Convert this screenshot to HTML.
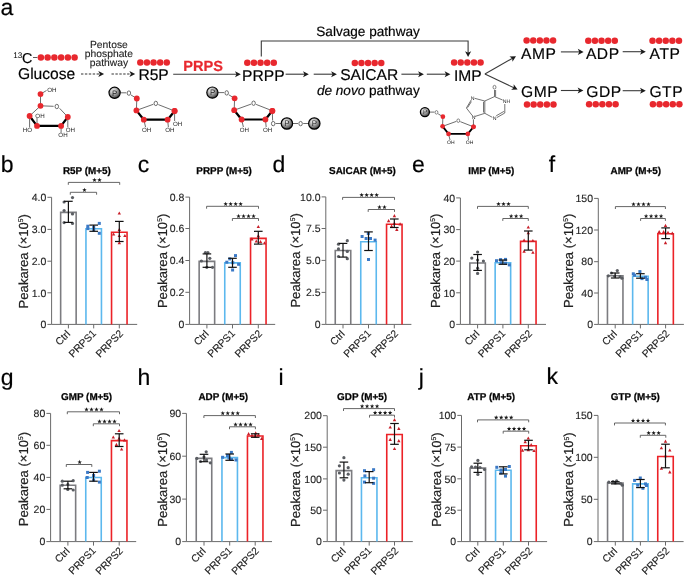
<!DOCTYPE html>
<html><head><meta charset="utf-8"><style>html,body{margin:0;padding:0;background:#fff;}svg{display:block;will-change:transform;text-rendering:geometricPrecision;}</style></head><body>
<svg width="685" height="576" viewBox="0 0 685 576">
<defs><radialGradient id="sph" cx="0.38" cy="0.32" r="0.75"><stop offset="0" stop-color="#f5f5f5"/><stop offset="0.35" stop-color="#bdbdbd"/><stop offset="0.72" stop-color="#6e6e6e"/><stop offset="1" stop-color="#2a2a2a"/></radialGradient></defs>
<g font-family='"Liberation Sans", sans-serif'>
<text x="0.60" y="14.90" font-size="23" stroke="#141414" stroke-width="0.2">a</text>
<text x="13.30" y="57.90" font-size="8.2">13</text>
<text x="21.90" y="62.50" font-size="14.3" stroke="#141414" stroke-width="0.2">C</text>
<line x1="33.00" y1="57.50" x2="37.40" y2="57.50" stroke="#333" stroke-width="0.8"/>
<circle cx="40.90" cy="57.50" r="3.25" fill="#e8282e"/>
<circle cx="47.64" cy="57.50" r="3.25" fill="#e8282e"/>
<circle cx="54.38" cy="57.50" r="3.25" fill="#e8282e"/>
<circle cx="61.12" cy="57.50" r="3.25" fill="#e8282e"/>
<circle cx="67.86" cy="57.50" r="3.25" fill="#e8282e"/>
<circle cx="74.60" cy="57.50" r="3.25" fill="#e8282e"/>
<text x="18.00" y="78.50" font-size="15.6" stroke="#141414" stroke-width="0.2">Glucose</text>
<text x="108.90" y="47.70" font-size="10.3" text-anchor="middle" fill="#222" stroke="#222" stroke-width="0.12">Pentose</text>
<text x="108.90" y="57.20" font-size="10.3" text-anchor="middle" fill="#222" stroke="#222" stroke-width="0.12">phosphate</text>
<text x="108.90" y="66.40" font-size="10.3" text-anchor="middle" fill="#222" stroke="#222" stroke-width="0.12">pathway</text>
<line x1="81.00" y1="74.00" x2="100.60" y2="74.00" stroke="#333" stroke-width="1.2" stroke-dasharray="2.4,1.5"/>
<polygon points="104.10,74.00 98.30,70.95 99.80,74.00 98.30,77.05" fill="#1a1a1a"/>
<line x1="111.50" y1="74.00" x2="131.70" y2="74.00" stroke="#333" stroke-width="1.2" stroke-dasharray="2.4,1.5"/>
<polygon points="135.20,74.00 129.40,70.95 130.90,74.00 129.40,77.05" fill="#1a1a1a"/>
<circle cx="140.30" cy="62.50" r="3.25" fill="#e8282e"/>
<circle cx="146.92" cy="62.50" r="3.25" fill="#e8282e"/>
<circle cx="153.54" cy="62.50" r="3.25" fill="#e8282e"/>
<circle cx="160.16" cy="62.50" r="3.25" fill="#e8282e"/>
<circle cx="166.78" cy="62.50" r="3.25" fill="#e8282e"/>
<text x="138.40" y="80.40" font-size="15.6" stroke="#141414" stroke-width="0.2">R5P</text>
<line x1="173.20" y1="74.30" x2="237.30" y2="74.30" stroke="#3a3a3a" stroke-width="1.1"/>
<polygon points="240.80,74.30 235.00,71.25 236.50,74.30 235.00,77.35" fill="#1a1a1a"/>
<text x="183.20" y="71.00" font-size="14.6" font-weight="bold" fill="#e8282e" stroke="#e8282e" stroke-width="0.2">PRPS</text>
<circle cx="247.30" cy="62.80" r="3.25" fill="#e8282e"/>
<circle cx="253.92" cy="62.80" r="3.25" fill="#e8282e"/>
<circle cx="260.54" cy="62.80" r="3.25" fill="#e8282e"/>
<circle cx="267.16" cy="62.80" r="3.25" fill="#e8282e"/>
<circle cx="273.78" cy="62.80" r="3.25" fill="#e8282e"/>
<text x="242.10" y="81.00" font-size="15.6" stroke="#141414" stroke-width="0.2">PRPP</text>
<line x1="285.60" y1="74.20" x2="305.30" y2="74.20" stroke="#3a3a3a" stroke-width="1.1"/>
<polygon points="308.80,74.20 303.00,71.15 304.50,74.20 303.00,77.25" fill="#1a1a1a"/>
<line x1="313.70" y1="74.20" x2="333.40" y2="74.20" stroke="#3a3a3a" stroke-width="1.1"/>
<polygon points="336.90,74.20 331.10,71.15 332.60,74.20 331.10,77.25" fill="#1a1a1a"/>
<polyline points="261.3,56.5 261.3,41 468.1,41 468.1,53" fill="none" stroke="#3a3a3a" stroke-width="1.1"/>
<polygon points="468.10,57.00 471.15,51.20 468.10,52.70 465.05,51.20" fill="#1a1a1a"/>
<text x="316.30" y="35.80" font-size="13.6" stroke="#141414" stroke-width="0.2">Salvage pathway</text>
<circle cx="354.80" cy="62.90" r="3.25" fill="#e8282e"/>
<circle cx="361.42" cy="62.90" r="3.25" fill="#e8282e"/>
<circle cx="368.04" cy="62.90" r="3.25" fill="#e8282e"/>
<circle cx="374.66" cy="62.90" r="3.25" fill="#e8282e"/>
<circle cx="381.28" cy="62.90" r="3.25" fill="#e8282e"/>
<text x="340.20" y="79.80" font-size="15.6" stroke="#141414" stroke-width="0.2">SAICAR</text>
<text x="316.90" y="94.70" font-size="13.6" stroke="#141414" stroke-width="0.2"><tspan font-style="italic">de novo</tspan> pathway</text>
<line x1="401.40" y1="74.20" x2="420.40" y2="74.20" stroke="#3a3a3a" stroke-width="1.1"/>
<polygon points="423.90,74.20 418.10,71.15 419.60,74.20 418.10,77.25" fill="#1a1a1a"/>
<line x1="426.80" y1="74.20" x2="446.90" y2="74.20" stroke="#3a3a3a" stroke-width="1.1"/>
<polygon points="450.40,74.20 444.60,71.15 446.10,74.20 444.60,77.25" fill="#1a1a1a"/>
<circle cx="454.10" cy="62.50" r="3.25" fill="#e8282e"/>
<circle cx="460.72" cy="62.50" r="3.25" fill="#e8282e"/>
<circle cx="467.34" cy="62.50" r="3.25" fill="#e8282e"/>
<circle cx="473.96" cy="62.50" r="3.25" fill="#e8282e"/>
<circle cx="480.58" cy="62.50" r="3.25" fill="#e8282e"/>
<text x="454.00" y="80.90" font-size="15.6" stroke="#141414" stroke-width="0.2">IMP</text>
<line x1="484.90" y1="73.90" x2="512.95" y2="58.02" stroke="#3a3a3a" stroke-width="1.1"/>
<polygon points="516.00,56.30 509.45,56.50 512.26,58.42 512.45,61.81" fill="#1a1a1a"/>
<line x1="484.90" y1="73.90" x2="514.44" y2="88.09" stroke="#3a3a3a" stroke-width="1.1"/>
<polygon points="517.60,89.60 513.69,84.34 513.72,87.74 511.05,89.84" fill="#1a1a1a"/>
<circle cx="526.60" cy="40.50" r="3.25" fill="#e8282e"/>
<circle cx="533.22" cy="40.50" r="3.25" fill="#e8282e"/>
<circle cx="539.84" cy="40.50" r="3.25" fill="#e8282e"/>
<circle cx="546.46" cy="40.50" r="3.25" fill="#e8282e"/>
<circle cx="553.08" cy="40.50" r="3.25" fill="#e8282e"/>
<text x="521.00" y="58.90" font-size="15.6" letter-spacing="0.55" stroke="#141414" stroke-width="0.2">AMP</text>
<line x1="560.90" y1="51.90" x2="580.10" y2="51.90" stroke="#3a3a3a" stroke-width="1.1"/>
<polygon points="583.60,51.90 577.80,48.85 579.30,51.90 577.80,54.95" fill="#1a1a1a"/>
<circle cx="588.30" cy="40.80" r="3.25" fill="#e8282e"/>
<circle cx="594.92" cy="40.80" r="3.25" fill="#e8282e"/>
<circle cx="601.54" cy="40.80" r="3.25" fill="#e8282e"/>
<circle cx="608.16" cy="40.80" r="3.25" fill="#e8282e"/>
<circle cx="614.78" cy="40.80" r="3.25" fill="#e8282e"/>
<text x="585.90" y="58.90" font-size="15.6" letter-spacing="0.55" stroke="#141414" stroke-width="0.2">ADP</text>
<line x1="622.70" y1="51.70" x2="642.30" y2="51.70" stroke="#3a3a3a" stroke-width="1.1"/>
<polygon points="645.80,51.70 640.00,48.65 641.50,51.70 640.00,54.75" fill="#1a1a1a"/>
<circle cx="652.50" cy="40.80" r="3.25" fill="#e8282e"/>
<circle cx="659.12" cy="40.80" r="3.25" fill="#e8282e"/>
<circle cx="665.74" cy="40.80" r="3.25" fill="#e8282e"/>
<circle cx="672.36" cy="40.80" r="3.25" fill="#e8282e"/>
<circle cx="678.98" cy="40.80" r="3.25" fill="#e8282e"/>
<text x="649.60" y="58.90" font-size="15.6" letter-spacing="0.55" stroke="#141414" stroke-width="0.2">ATP</text>
<text x="521.00" y="96.90" font-size="15.6" letter-spacing="0.55" stroke="#141414" stroke-width="0.2">GMP</text>
<circle cx="527.00" cy="104.40" r="3.25" fill="#e8282e"/>
<circle cx="533.62" cy="104.40" r="3.25" fill="#e8282e"/>
<circle cx="540.24" cy="104.40" r="3.25" fill="#e8282e"/>
<circle cx="546.86" cy="104.40" r="3.25" fill="#e8282e"/>
<circle cx="553.48" cy="104.40" r="3.25" fill="#e8282e"/>
<line x1="560.90" y1="90.50" x2="579.90" y2="90.50" stroke="#3a3a3a" stroke-width="1.1"/>
<polygon points="583.40,90.50 577.60,87.45 579.10,90.50 577.60,93.55" fill="#1a1a1a"/>
<text x="586.30" y="96.90" font-size="15.6" letter-spacing="0.55" stroke="#141414" stroke-width="0.2">GDP</text>
<circle cx="589.10" cy="104.30" r="3.25" fill="#e8282e"/>
<circle cx="595.72" cy="104.30" r="3.25" fill="#e8282e"/>
<circle cx="602.34" cy="104.30" r="3.25" fill="#e8282e"/>
<circle cx="608.96" cy="104.30" r="3.25" fill="#e8282e"/>
<circle cx="615.58" cy="104.30" r="3.25" fill="#e8282e"/>
<line x1="622.70" y1="90.70" x2="642.30" y2="90.70" stroke="#3a3a3a" stroke-width="1.1"/>
<polygon points="645.80,90.70 640.00,87.65 641.50,90.70 640.00,93.75" fill="#1a1a1a"/>
<text x="649.40" y="96.90" font-size="15.6" letter-spacing="0.55" stroke="#141414" stroke-width="0.2">GTP</text>
<circle cx="652.90" cy="104.30" r="3.25" fill="#e8282e"/>
<circle cx="659.52" cy="104.30" r="3.25" fill="#e8282e"/>
<circle cx="666.14" cy="104.30" r="3.25" fill="#e8282e"/>
<circle cx="672.76" cy="104.30" r="3.25" fill="#e8282e"/>
<circle cx="679.38" cy="104.30" r="3.25" fill="#e8282e"/>
<line x1="40.50" y1="94.10" x2="46.50" y2="90.50" stroke="#3c3c3c" stroke-width="0.75"/>
<text x="51.80" y="91.77" font-size="6.2" text-anchor="middle" fill="#222">OH</text>
<line x1="40.50" y1="94.10" x2="40.50" y2="105.80" stroke="#3c3c3c" stroke-width="0.75"/>
<line x1="40.50" y1="105.80" x2="53.60" y2="106.30" stroke="#3c3c3c" stroke-width="0.75"/>
<line x1="59.60" y1="108.30" x2="67.80" y2="117.00" stroke="#3c3c3c" stroke-width="0.75"/>
<line x1="40.50" y1="105.80" x2="29.60" y2="116.00" stroke="#3c3c3c" stroke-width="0.75"/>
<line x1="29.60" y1="116.00" x2="29.60" y2="127.40" stroke="#3c3c3c" stroke-width="0.75"/>
<text x="27.40" y="131.57" font-size="6.2" text-anchor="middle" fill="#222">HO</text>
<line x1="37.00" y1="125.90" x2="37.00" y2="118.00" stroke="#3c3c3c" stroke-width="0.75"/>
<text x="40.00" y="117.77" font-size="6.2" text-anchor="middle" fill="#222">OH</text>
<line x1="67.80" y1="117.00" x2="67.80" y2="127.40" stroke="#3c3c3c" stroke-width="0.75"/>
<text x="70.40" y="131.57" font-size="6.2" text-anchor="middle" fill="#222">OH</text>
<line x1="61.10" y1="125.90" x2="61.10" y2="132.80" stroke="#3c3c3c" stroke-width="0.75"/>
<text x="63.00" y="137.27" font-size="6.2" text-anchor="middle" fill="#222">OH</text>
<line x1="29.60" y1="116.00" x2="37.00" y2="125.90" stroke="#000" stroke-width="2.2" stroke-linecap="round"/>
<line x1="37.00" y1="125.90" x2="61.10" y2="125.90" stroke="#000" stroke-width="2.2" stroke-linecap="round"/>
<line x1="61.10" y1="125.90" x2="67.80" y2="117.00" stroke="#000" stroke-width="2.2" stroke-linecap="round"/>
<ellipse cx="56.80" cy="106.50" rx="1.75" ry="2.20" fill="none" stroke="#333" stroke-width="0.70"/>
<circle cx="40.50" cy="94.10" r="2.9" fill="#e8282e"/>
<circle cx="40.50" cy="105.80" r="2.9" fill="#e8282e"/>
<circle cx="67.80" cy="117.00" r="2.9" fill="#e8282e"/>
<circle cx="29.60" cy="116.00" r="2.9" fill="#e8282e"/>
<circle cx="37.00" cy="125.90" r="2.9" fill="#e8282e"/>
<circle cx="61.10" cy="125.90" r="2.9" fill="#e8282e"/>
<line x1="120.40" y1="92.80" x2="126.30" y2="92.80" stroke="#3c3c3c" stroke-width="0.75"/>
<line x1="131.00" y1="95.00" x2="136.80" y2="98.50" stroke="#3c3c3c" stroke-width="0.75"/>
<line x1="136.80" y1="98.50" x2="136.40" y2="110.40" stroke="#3c3c3c" stroke-width="0.75"/>
<line x1="136.40" y1="110.40" x2="153.30" y2="104.30" stroke="#3c3c3c" stroke-width="0.75"/>
<line x1="158.30" y1="104.60" x2="174.60" y2="111.00" stroke="#3c3c3c" stroke-width="0.75"/>
<line x1="143.80" y1="119.70" x2="145.60" y2="127.20" stroke="#3c3c3c" stroke-width="0.75"/>
<line x1="167.60" y1="119.70" x2="168.40" y2="127.20" stroke="#3c3c3c" stroke-width="0.75"/>
<text x="146.60" y="131.77" font-size="6.2" text-anchor="middle" fill="#222">OH</text>
<text x="169.80" y="131.77" font-size="6.2" text-anchor="middle" fill="#222">OH</text>
<line x1="136.40" y1="110.40" x2="143.80" y2="119.70" stroke="#000" stroke-width="2.2" stroke-linecap="round"/>
<line x1="143.80" y1="119.70" x2="167.60" y2="119.70" stroke="#000" stroke-width="2.2" stroke-linecap="round"/>
<line x1="167.60" y1="119.70" x2="174.60" y2="111.00" stroke="#000" stroke-width="2.2" stroke-linecap="round"/>
<ellipse cx="128.90" cy="93.10" rx="1.75" ry="2.20" fill="none" stroke="#333" stroke-width="0.70"/>
<ellipse cx="155.80" cy="103.40" rx="1.75" ry="2.20" fill="none" stroke="#333" stroke-width="0.70"/>
<circle cx="136.80" cy="98.50" r="2.9" fill="#e8282e"/>
<circle cx="136.40" cy="110.40" r="2.9" fill="#e8282e"/>
<circle cx="174.60" cy="111.00" r="2.9" fill="#e8282e"/>
<circle cx="143.80" cy="119.70" r="2.9" fill="#e8282e"/>
<circle cx="167.60" cy="119.70" r="2.9" fill="#e8282e"/>
<circle cx="114.6" cy="92.8" r="5.6" fill="url(#sph)" stroke="#000" stroke-width="1.2"/>
<text x="114.70" y="95.60" font-size="7.839999999999999" text-anchor="middle" fill="#222">P</text>
<line x1="174.60" y1="111.00" x2="174.60" y2="121.00" stroke="#3c3c3c" stroke-width="0.75"/>
<text x="177.60" y="125.77" font-size="6.2" text-anchor="middle" fill="#222">OH</text>
<circle cx="174.60" cy="111.00" r="2.9" fill="#e8282e"/>
<line x1="218.20" y1="92.60" x2="224.10" y2="92.60" stroke="#3c3c3c" stroke-width="0.75"/>
<line x1="228.80" y1="94.80" x2="234.60" y2="98.30" stroke="#3c3c3c" stroke-width="0.75"/>
<line x1="234.60" y1="98.30" x2="234.20" y2="110.20" stroke="#3c3c3c" stroke-width="0.75"/>
<line x1="234.20" y1="110.20" x2="251.10" y2="104.10" stroke="#3c3c3c" stroke-width="0.75"/>
<line x1="256.10" y1="104.40" x2="272.40" y2="110.80" stroke="#3c3c3c" stroke-width="0.75"/>
<line x1="241.60" y1="119.50" x2="243.40" y2="127.00" stroke="#3c3c3c" stroke-width="0.75"/>
<line x1="265.40" y1="119.50" x2="266.20" y2="127.00" stroke="#3c3c3c" stroke-width="0.75"/>
<text x="244.40" y="131.57" font-size="6.2" text-anchor="middle" fill="#222">OH</text>
<text x="267.60" y="131.57" font-size="6.2" text-anchor="middle" fill="#222">OH</text>
<line x1="234.20" y1="110.20" x2="241.60" y2="119.50" stroke="#000" stroke-width="2.2" stroke-linecap="round"/>
<line x1="241.60" y1="119.50" x2="265.40" y2="119.50" stroke="#000" stroke-width="2.2" stroke-linecap="round"/>
<line x1="265.40" y1="119.50" x2="272.40" y2="110.80" stroke="#000" stroke-width="2.2" stroke-linecap="round"/>
<ellipse cx="226.70" cy="92.90" rx="1.75" ry="2.20" fill="none" stroke="#333" stroke-width="0.70"/>
<ellipse cx="253.60" cy="103.20" rx="1.75" ry="2.20" fill="none" stroke="#333" stroke-width="0.70"/>
<circle cx="234.60" cy="98.30" r="2.9" fill="#e8282e"/>
<circle cx="234.20" cy="110.20" r="2.9" fill="#e8282e"/>
<circle cx="272.40" cy="110.80" r="2.9" fill="#e8282e"/>
<circle cx="241.60" cy="119.50" r="2.9" fill="#e8282e"/>
<circle cx="265.40" cy="119.50" r="2.9" fill="#e8282e"/>
<circle cx="212.4" cy="92.6" r="5.6" fill="url(#sph)" stroke="#000" stroke-width="1.2"/>
<text x="212.50" y="95.40" font-size="7.839999999999999" text-anchor="middle" fill="#222">P</text>
<line x1="272.30" y1="111.00" x2="272.60" y2="120.50" stroke="#3c3c3c" stroke-width="0.75"/>
<ellipse cx="273.20" cy="123.60" rx="1.75" ry="2.20" fill="none" stroke="#333" stroke-width="0.70"/>
<line x1="275.60" y1="123.50" x2="281.20" y2="123.50" stroke="#3c3c3c" stroke-width="0.75"/>
<line x1="292.60" y1="123.50" x2="298.00" y2="123.50" stroke="#3c3c3c" stroke-width="0.75"/>
<ellipse cx="300.60" cy="123.60" rx="1.75" ry="2.20" fill="none" stroke="#333" stroke-width="0.70"/>
<line x1="303.20" y1="123.50" x2="308.60" y2="123.50" stroke="#3c3c3c" stroke-width="0.75"/>
<circle cx="272.30" cy="111.00" r="2.9" fill="#e8282e"/>
<circle cx="286.9" cy="123.5" r="5.7" fill="url(#sph)" stroke="#000" stroke-width="1.2"/>
<text x="287.00" y="126.35" font-size="7.9799999999999995" text-anchor="middle" fill="#222">P</text>
<circle cx="314.3" cy="123.5" r="5.7" fill="url(#sph)" stroke="#000" stroke-width="1.2"/>
<text x="314.40" y="126.35" font-size="7.9799999999999995" text-anchor="middle" fill="#222">P</text>
<line x1="429.60" y1="112.10" x2="434.38" y2="112.10" stroke="#3c3c3c" stroke-width="0.75"/>
<line x1="438.18" y1="113.88" x2="442.88" y2="116.72" stroke="#3c3c3c" stroke-width="0.75"/>
<line x1="442.88" y1="116.72" x2="442.56" y2="126.36" stroke="#3c3c3c" stroke-width="0.75"/>
<line x1="442.56" y1="126.36" x2="456.25" y2="121.41" stroke="#3c3c3c" stroke-width="0.75"/>
<line x1="460.30" y1="121.66" x2="473.50" y2="126.84" stroke="#3c3c3c" stroke-width="0.75"/>
<line x1="448.55" y1="133.89" x2="450.01" y2="139.96" stroke="#3c3c3c" stroke-width="0.75"/>
<line x1="467.83" y1="133.89" x2="468.48" y2="139.96" stroke="#3c3c3c" stroke-width="0.75"/>
<text x="450.82" y="143.67" font-size="5.022" text-anchor="middle" fill="#222">OH</text>
<text x="469.61" y="143.67" font-size="5.022" text-anchor="middle" fill="#222">OH</text>
<line x1="442.56" y1="126.36" x2="448.55" y2="133.89" stroke="#000" stroke-width="1.7820000000000003" stroke-linecap="round"/>
<line x1="448.55" y1="133.89" x2="467.83" y2="133.89" stroke="#000" stroke-width="1.7820000000000003" stroke-linecap="round"/>
<line x1="467.83" y1="133.89" x2="473.50" y2="126.84" stroke="#000" stroke-width="1.7820000000000003" stroke-linecap="round"/>
<ellipse cx="436.48" cy="112.34" rx="1.42" ry="1.78" fill="none" stroke="#333" stroke-width="0.57"/>
<ellipse cx="458.27" cy="120.69" rx="1.42" ry="1.78" fill="none" stroke="#333" stroke-width="0.57"/>
<circle cx="442.88" cy="116.72" r="2.349" fill="#e8282e"/>
<circle cx="442.56" cy="126.36" r="2.349" fill="#e8282e"/>
<circle cx="473.50" cy="126.84" r="2.349" fill="#e8282e"/>
<circle cx="448.55" cy="133.89" r="2.349" fill="#e8282e"/>
<circle cx="467.83" cy="133.89" r="2.349" fill="#e8282e"/>
<circle cx="424.9" cy="112.1" r="4.536" fill="url(#sph)" stroke="#000" stroke-width="1.2"/>
<text x="425.00" y="114.37" font-size="6.350399999999999" text-anchor="middle" fill="#222">P</text>
<line x1="473.50" y1="126.84" x2="473.40" y2="119.30" stroke="#3c3c3c" stroke-width="0.75"/>
<line x1="472.30" y1="115.60" x2="466.40" y2="108.00" stroke="#444" stroke-width="0.75"/>
<line x1="466.40" y1="108.00" x2="471.20" y2="100.00" stroke="#444" stroke-width="0.75"/>
<line x1="467.60" y1="107.60" x2="471.40" y2="101.60" stroke="#444" stroke-width="0.75"/>
<line x1="474.60" y1="98.30" x2="484.80" y2="101.00" stroke="#444" stroke-width="0.75"/>
<line x1="484.80" y1="101.00" x2="484.80" y2="113.30" stroke="#444" stroke-width="0.75"/>
<line x1="483.50" y1="101.80" x2="483.50" y2="112.50" stroke="#444" stroke-width="0.75"/>
<line x1="484.80" y1="113.30" x2="474.80" y2="116.50" stroke="#444" stroke-width="0.75"/>
<line x1="484.80" y1="101.00" x2="494.50" y2="96.60" stroke="#444" stroke-width="0.75"/>
<line x1="494.50" y1="96.60" x2="494.50" y2="90.00" stroke="#444" stroke-width="0.75"/>
<line x1="495.60" y1="96.60" x2="495.60" y2="90.00" stroke="#444" stroke-width="0.75"/>
<line x1="494.50" y1="96.60" x2="502.60" y2="100.00" stroke="#444" stroke-width="0.75"/>
<line x1="504.80" y1="104.00" x2="504.80" y2="113.00" stroke="#444" stroke-width="0.75"/>
<line x1="504.80" y1="113.00" x2="496.80" y2="117.60" stroke="#444" stroke-width="0.75"/>
<line x1="503.90" y1="111.40" x2="496.20" y2="115.80" stroke="#444" stroke-width="0.75"/>
<line x1="492.30" y1="117.30" x2="484.80" y2="113.30" stroke="#444" stroke-width="0.75"/>
<text x="472.60" y="100.02" font-size="5.2" text-anchor="middle" fill="#222">N</text>
<text x="473.60" y="119.22" font-size="5.2" text-anchor="middle" fill="#222">N</text>
<ellipse cx="494.50" cy="87.20" rx="1.48" ry="1.86" fill="none" stroke="#333" stroke-width="0.59"/>
<text x="506.60" y="103.22" font-size="5.2" text-anchor="middle" fill="#222">NH</text>
<text x="494.50" y="120.42" font-size="5.2" text-anchor="middle" fill="#222">N</text>
<circle cx="473.50" cy="126.84" r="2.349" fill="#e8282e"/>
<text x="0.70" y="172.20" font-size="23" stroke="#141414" stroke-width="0.2">b</text>
<text x="86.90" y="174.30" font-size="9.9" font-weight="bold" text-anchor="middle" stroke="#141414" stroke-width="0.3">R5P (M+5)</text>
<line x1="51.60" y1="197.30" x2="51.60" y2="324.40" stroke="#6a6a6a" stroke-width="1.0"/>
<line x1="51.60" y1="324.40" x2="137.20" y2="324.40" stroke="#6a6a6a" stroke-width="1.0"/>
<line x1="47.40" y1="197.30" x2="51.60" y2="197.30" stroke="#6a6a6a" stroke-width="1.0"/>
<text x="46.30" y="201.05" font-size="10.5" text-anchor="end" fill="#1e1e1e" stroke="#1e1e1e" stroke-width="0.12">4.0</text>
<line x1="47.40" y1="229.40" x2="51.60" y2="229.40" stroke="#6a6a6a" stroke-width="1.0"/>
<text x="46.30" y="233.15" font-size="10.5" text-anchor="end" fill="#1e1e1e" stroke="#1e1e1e" stroke-width="0.12">3.0</text>
<line x1="47.40" y1="261.20" x2="51.60" y2="261.20" stroke="#6a6a6a" stroke-width="1.0"/>
<text x="46.30" y="264.95" font-size="10.5" text-anchor="end" fill="#1e1e1e" stroke="#1e1e1e" stroke-width="0.12">2.0</text>
<line x1="47.40" y1="292.80" x2="51.60" y2="292.80" stroke="#6a6a6a" stroke-width="1.0"/>
<text x="46.30" y="296.55" font-size="10.5" text-anchor="end" fill="#1e1e1e" stroke="#1e1e1e" stroke-width="0.12">1.0</text>
<line x1="47.40" y1="324.40" x2="51.60" y2="324.40" stroke="#6a6a6a" stroke-width="1.0"/>
<text x="46.30" y="328.15" font-size="10.5" text-anchor="end" fill="#1e1e1e" stroke="#1e1e1e" stroke-width="0.12">0</text>
<text x="28.30" y="261.20" font-size="13.1" text-anchor="middle" fill="#222" transform="rotate(-90 28.3 261.2)" stroke="#222" stroke-width="0.2">Peakarea (×10<tspan font-size="6.8" dy="-4.9">5</tspan><tspan dy="4.9">)</tspan></text>
<path d="M60.65,324.40 V212.40 H76.15 V324.40" fill="none" stroke="#7c7c80" stroke-width="1.6"/>
<line x1="68.40" y1="324.40" x2="68.40" y2="328.40" stroke="#6a6a6a" stroke-width="1.0"/>
<text x="70.90" y="334.70" font-size="10.3" text-anchor="end" fill="#222" transform="rotate(-45 70.90 334.70)" stroke="#222" stroke-width="0.12">Ctrl</text>
<circle cx="72.50" cy="197.60" r="1.6" fill="#5a5d62"/>
<circle cx="64.10" cy="202.00" r="1.6" fill="#5a5d62"/>
<circle cx="64.10" cy="210.50" r="1.6" fill="#5a5d62"/>
<circle cx="72.50" cy="213.90" r="1.6" fill="#5a5d62"/>
<circle cx="64.10" cy="222.60" r="1.6" fill="#5a5d62"/>
<circle cx="72.50" cy="223.40" r="1.6" fill="#5a5d62"/>
<line x1="68.40" y1="201.30" x2="68.40" y2="222.40" stroke="#111" stroke-width="1.2"/>
<line x1="64.10" y1="201.30" x2="72.70" y2="201.30" stroke="#111" stroke-width="1.2"/>
<line x1="64.10" y1="222.40" x2="72.70" y2="222.40" stroke="#111" stroke-width="1.2"/>
<path d="M85.95,324.40 V228.70 H101.45 V324.40" fill="none" stroke="#5cb8ee" stroke-width="1.6"/>
<line x1="93.70" y1="324.40" x2="93.70" y2="328.40" stroke="#6a6a6a" stroke-width="1.0"/>
<text x="96.90" y="334.00" font-size="10.3" text-anchor="end" fill="#222" transform="rotate(-45 96.90 334.00)" stroke="#222" stroke-width="0.12">PRPS1</text>
<rect x="97.80" y="221.90" width="3.0" height="3.0" fill="#3b79c6"/>
<rect x="86.30" y="224.70" width="3.0" height="3.0" fill="#3b79c6"/>
<rect x="86.30" y="227.10" width="3.0" height="3.0" fill="#3b79c6"/>
<rect x="92.20" y="226.00" width="3.0" height="3.0" fill="#3b79c6"/>
<rect x="97.80" y="231.80" width="3.0" height="3.0" fill="#3b79c6"/>
<rect x="92.20" y="228.50" width="3.0" height="3.0" fill="#3b79c6"/>
<line x1="93.70" y1="225.10" x2="93.70" y2="231.30" stroke="#111" stroke-width="1.2"/>
<line x1="89.40" y1="225.10" x2="98.00" y2="225.10" stroke="#111" stroke-width="1.2"/>
<line x1="89.40" y1="231.30" x2="98.00" y2="231.30" stroke="#111" stroke-width="1.2"/>
<path d="M111.55,324.40 V232.30 H127.05 V324.40" fill="none" stroke="#ec2227" stroke-width="1.6"/>
<line x1="119.30" y1="324.40" x2="119.30" y2="328.40" stroke="#6a6a6a" stroke-width="1.0"/>
<text x="123.80" y="334.20" font-size="10.3" text-anchor="end" fill="#222" transform="rotate(-45 123.80 334.20)" stroke="#222" stroke-width="0.12">PRPS2</text>
<polygon points="119.30,211.50 121.00,214.60 117.60,214.60" fill="#c81e28"/>
<polygon points="113.60,232.40 115.30,235.50 111.90,235.50" fill="#c81e28"/>
<polygon points="119.30,234.00 121.00,237.10 117.60,237.10" fill="#c81e28"/>
<polygon points="124.90,234.00 126.60,237.10 123.20,237.10" fill="#c81e28"/>
<polygon points="119.30,227.80 121.00,230.90 117.60,230.90" fill="#c81e28"/>
<polygon points="119.30,241.10 121.00,244.20 117.60,244.20" fill="#c81e28"/>
<line x1="119.30" y1="221.40" x2="119.30" y2="241.50" stroke="#111" stroke-width="1.2"/>
<line x1="115.00" y1="221.40" x2="123.60" y2="221.40" stroke="#111" stroke-width="1.2"/>
<line x1="115.00" y1="241.50" x2="123.60" y2="241.50" stroke="#111" stroke-width="1.2"/>
<path d="M68.30,184.80 V182.40 H119.70 V184.80" fill="none" stroke="#555" stroke-width="0.9"/>
<polygon points="94.50,177.75 95.08,179.30 96.73,179.37 95.44,180.40 95.88,182.00 94.50,181.09 93.12,182.00 93.56,180.40 92.27,179.37 93.92,179.30" fill="#1a1a1a"/>
<polygon points="99.50,177.75 100.08,179.30 101.73,179.37 100.44,180.40 100.88,182.00 99.50,181.09 98.12,182.00 98.56,180.40 97.27,179.37 98.92,179.30" fill="#1a1a1a"/>
<path d="M70.30,194.70 V192.30 H96.60 V194.70" fill="none" stroke="#555" stroke-width="0.9"/>
<polygon points="84.45,187.65 85.03,189.20 86.68,189.27 85.39,190.30 85.83,191.90 84.45,190.99 83.07,191.90 83.51,190.30 82.22,189.27 83.87,189.20" fill="#1a1a1a"/>
<text x="137.80" y="172.20" font-size="23" stroke="#141414" stroke-width="0.2">c</text>
<text x="224.10" y="174.10" font-size="9.9" font-weight="bold" text-anchor="middle" stroke="#141414" stroke-width="0.3">PRPP (M+5)</text>
<line x1="189.60" y1="197.10" x2="189.60" y2="324.40" stroke="#6a6a6a" stroke-width="1.0"/>
<line x1="189.60" y1="324.40" x2="275.20" y2="324.40" stroke="#6a6a6a" stroke-width="1.0"/>
<line x1="185.40" y1="197.10" x2="189.60" y2="197.10" stroke="#6a6a6a" stroke-width="1.0"/>
<text x="184.30" y="200.85" font-size="10.5" text-anchor="end" fill="#1e1e1e" stroke="#1e1e1e" stroke-width="0.12">0.8</text>
<line x1="185.40" y1="228.50" x2="189.60" y2="228.50" stroke="#6a6a6a" stroke-width="1.0"/>
<text x="184.30" y="232.25" font-size="10.5" text-anchor="end" fill="#1e1e1e" stroke="#1e1e1e" stroke-width="0.12">0.6</text>
<line x1="185.40" y1="260.50" x2="189.60" y2="260.50" stroke="#6a6a6a" stroke-width="1.0"/>
<text x="184.30" y="264.25" font-size="10.5" text-anchor="end" fill="#1e1e1e" stroke="#1e1e1e" stroke-width="0.12">0.4</text>
<line x1="185.40" y1="292.30" x2="189.60" y2="292.30" stroke="#6a6a6a" stroke-width="1.0"/>
<text x="184.30" y="296.05" font-size="10.5" text-anchor="end" fill="#1e1e1e" stroke="#1e1e1e" stroke-width="0.12">0.2</text>
<line x1="185.40" y1="324.40" x2="189.60" y2="324.40" stroke="#6a6a6a" stroke-width="1.0"/>
<text x="184.30" y="328.15" font-size="10.5" text-anchor="end" fill="#1e1e1e" stroke="#1e1e1e" stroke-width="0.12">0</text>
<text x="166.80" y="260.90" font-size="13.1" text-anchor="middle" fill="#222" transform="rotate(-90 166.8 260.9)" stroke="#222" stroke-width="0.2">Peakarea (×10<tspan font-size="6.8" dy="-4.9">5</tspan><tspan dy="4.9">)</tspan></text>
<path d="M199.15,324.40 V261.40 H214.65 V324.40" fill="none" stroke="#7c7c80" stroke-width="1.6"/>
<line x1="206.90" y1="324.40" x2="206.90" y2="328.40" stroke="#6a6a6a" stroke-width="1.0"/>
<text x="209.40" y="334.70" font-size="10.3" text-anchor="end" fill="#222" transform="rotate(-45 209.40 334.70)" stroke="#222" stroke-width="0.12">Ctrl</text>
<circle cx="205.40" cy="252.60" r="1.6" fill="#5a5d62"/>
<circle cx="207.90" cy="252.60" r="1.6" fill="#5a5d62"/>
<circle cx="209.80" cy="258.30" r="1.6" fill="#5a5d62"/>
<circle cx="201.40" cy="261.00" r="1.6" fill="#5a5d62"/>
<circle cx="206.80" cy="267.30" r="1.6" fill="#5a5d62"/>
<circle cx="212.50" cy="267.30" r="1.6" fill="#5a5d62"/>
<line x1="206.90" y1="253.90" x2="206.90" y2="267.30" stroke="#111" stroke-width="1.2"/>
<line x1="202.60" y1="253.90" x2="211.20" y2="253.90" stroke="#111" stroke-width="1.2"/>
<line x1="202.60" y1="267.30" x2="211.20" y2="267.30" stroke="#111" stroke-width="1.2"/>
<path d="M224.75,324.40 V262.90 H240.25 V324.40" fill="none" stroke="#5cb8ee" stroke-width="1.6"/>
<line x1="232.50" y1="324.40" x2="232.50" y2="328.40" stroke="#6a6a6a" stroke-width="1.0"/>
<text x="235.70" y="334.00" font-size="10.3" text-anchor="end" fill="#222" transform="rotate(-45 235.70 334.00)" stroke="#222" stroke-width="0.12">PRPS1</text>
<rect x="234.00" y="254.10" width="3.0" height="3.0" fill="#3b79c6"/>
<rect x="228.30" y="257.40" width="3.0" height="3.0" fill="#3b79c6"/>
<rect x="225.30" y="260.70" width="3.0" height="3.0" fill="#3b79c6"/>
<rect x="231.30" y="261.20" width="3.0" height="3.0" fill="#3b79c6"/>
<rect x="237.10" y="262.80" width="3.0" height="3.0" fill="#3b79c6"/>
<rect x="231.10" y="268.50" width="3.0" height="3.0" fill="#3b79c6"/>
<line x1="232.50" y1="258.30" x2="232.50" y2="267.30" stroke="#111" stroke-width="1.2"/>
<line x1="228.20" y1="258.30" x2="236.80" y2="258.30" stroke="#111" stroke-width="1.2"/>
<line x1="228.20" y1="267.30" x2="236.80" y2="267.30" stroke="#111" stroke-width="1.2"/>
<path d="M250.55,324.40 V238.40 H266.05 V324.40" fill="none" stroke="#ec2227" stroke-width="1.6"/>
<line x1="258.30" y1="324.40" x2="258.30" y2="328.40" stroke="#6a6a6a" stroke-width="1.0"/>
<text x="262.80" y="334.20" font-size="10.3" text-anchor="end" fill="#222" transform="rotate(-45 262.80 334.20)" stroke="#222" stroke-width="0.12">PRPS2</text>
<polygon points="258.30,224.90 260.00,228.00 256.60,228.00" fill="#c81e28"/>
<polygon points="251.90,237.30 253.60,240.40 250.20,240.40" fill="#c81e28"/>
<polygon points="256.30,239.50 258.00,242.60 254.60,242.60" fill="#c81e28"/>
<polygon points="260.50,240.00 262.20,243.10 258.80,243.10" fill="#c81e28"/>
<polygon points="264.50,241.30 266.20,244.40 262.80,244.40" fill="#c81e28"/>
<polygon points="258.30,234.10 260.00,237.20 256.60,237.20" fill="#c81e28"/>
<line x1="258.30" y1="231.30" x2="258.30" y2="244.10" stroke="#111" stroke-width="1.2"/>
<line x1="254.00" y1="231.30" x2="262.60" y2="231.30" stroke="#111" stroke-width="1.2"/>
<line x1="254.00" y1="244.10" x2="262.60" y2="244.10" stroke="#111" stroke-width="1.2"/>
<path d="M206.60,208.70 V206.30 H258.50 V208.70" fill="none" stroke="#555" stroke-width="0.9"/>
<polygon points="225.65,201.65 226.23,203.20 227.88,203.27 226.59,204.30 227.03,205.90 225.65,204.99 224.27,205.90 224.71,204.30 223.42,203.27 225.07,203.20" fill="#1a1a1a"/>
<polygon points="230.65,201.65 231.23,203.20 232.88,203.27 231.59,204.30 232.03,205.90 230.65,204.99 229.27,205.90 229.71,204.30 228.42,203.27 230.07,203.20" fill="#1a1a1a"/>
<polygon points="235.65,201.65 236.23,203.20 237.88,203.27 236.59,204.30 237.03,205.90 235.65,204.99 234.27,205.90 234.71,204.30 233.42,203.27 235.07,203.20" fill="#1a1a1a"/>
<polygon points="240.65,201.65 241.23,203.20 242.88,203.27 241.59,204.30 242.03,205.90 240.65,204.99 239.27,205.90 239.71,204.30 238.42,203.27 240.07,203.20" fill="#1a1a1a"/>
<path d="M232.40,220.90 V218.50 H258.50 V220.90" fill="none" stroke="#555" stroke-width="0.9"/>
<polygon points="238.55,213.85 239.13,215.40 240.78,215.47 239.49,216.50 239.93,218.10 238.55,217.19 237.17,218.10 237.61,216.50 236.32,215.47 237.97,215.40" fill="#1a1a1a"/>
<polygon points="243.55,213.85 244.13,215.40 245.78,215.47 244.49,216.50 244.93,218.10 243.55,217.19 242.17,218.10 242.61,216.50 241.32,215.47 242.97,215.40" fill="#1a1a1a"/>
<polygon points="248.55,213.85 249.13,215.40 250.78,215.47 249.49,216.50 249.93,218.10 248.55,217.19 247.17,218.10 247.61,216.50 246.32,215.47 247.97,215.40" fill="#1a1a1a"/>
<polygon points="253.55,213.85 254.13,215.40 255.78,215.47 254.49,216.50 254.93,218.10 253.55,217.19 252.17,218.10 252.61,216.50 251.32,215.47 252.97,215.40" fill="#1a1a1a"/>
<text x="272.60" y="172.30" font-size="23" stroke="#141414" stroke-width="0.2">d</text>
<text x="362.40" y="174.10" font-size="9.9" font-weight="bold" text-anchor="middle" stroke="#141414" stroke-width="0.3">SAICAR (M+5)</text>
<line x1="325.80" y1="196.90" x2="325.80" y2="324.40" stroke="#6a6a6a" stroke-width="1.0"/>
<line x1="325.80" y1="324.40" x2="411.40" y2="324.40" stroke="#6a6a6a" stroke-width="1.0"/>
<line x1="321.60" y1="196.90" x2="325.80" y2="196.90" stroke="#6a6a6a" stroke-width="1.0"/>
<text x="320.50" y="200.65" font-size="10.5" text-anchor="end" fill="#1e1e1e" stroke="#1e1e1e" stroke-width="0.12">10.0</text>
<line x1="321.60" y1="228.50" x2="325.80" y2="228.50" stroke="#6a6a6a" stroke-width="1.0"/>
<text x="320.50" y="232.25" font-size="10.5" text-anchor="end" fill="#1e1e1e" stroke="#1e1e1e" stroke-width="0.12">7.5</text>
<line x1="321.60" y1="260.40" x2="325.80" y2="260.40" stroke="#6a6a6a" stroke-width="1.0"/>
<text x="320.50" y="264.15" font-size="10.5" text-anchor="end" fill="#1e1e1e" stroke="#1e1e1e" stroke-width="0.12">5.0</text>
<line x1="321.60" y1="292.40" x2="325.80" y2="292.40" stroke="#6a6a6a" stroke-width="1.0"/>
<text x="320.50" y="296.15" font-size="10.5" text-anchor="end" fill="#1e1e1e" stroke="#1e1e1e" stroke-width="0.12">2.5</text>
<line x1="321.60" y1="324.40" x2="325.80" y2="324.40" stroke="#6a6a6a" stroke-width="1.0"/>
<text x="320.50" y="328.15" font-size="10.5" text-anchor="end" fill="#1e1e1e" stroke="#1e1e1e" stroke-width="0.12">0</text>
<text x="300.00" y="260.40" font-size="13.1" text-anchor="middle" fill="#222" transform="rotate(-90 300.0 260.4)" stroke="#222" stroke-width="0.2">Peakarea (×10<tspan font-size="6.8" dy="-4.9">5</tspan><tspan dy="4.9">)</tspan></text>
<path d="M335.25,324.40 V250.50 H350.75 V324.40" fill="none" stroke="#7c7c80" stroke-width="1.6"/>
<line x1="343.00" y1="324.40" x2="343.00" y2="328.40" stroke="#6a6a6a" stroke-width="1.0"/>
<text x="345.50" y="334.70" font-size="10.3" text-anchor="end" fill="#222" transform="rotate(-45 345.50 334.70)" stroke="#222" stroke-width="0.12">Ctrl</text>
<circle cx="347.30" cy="240.70" r="1.6" fill="#5a5d62"/>
<circle cx="338.50" cy="244.20" r="1.6" fill="#5a5d62"/>
<circle cx="338.50" cy="248.90" r="1.6" fill="#5a5d62"/>
<circle cx="347.30" cy="251.40" r="1.6" fill="#5a5d62"/>
<circle cx="338.50" cy="256.50" r="1.6" fill="#5a5d62"/>
<circle cx="347.30" cy="258.70" r="1.6" fill="#5a5d62"/>
<line x1="343.00" y1="243.40" x2="343.00" y2="257.10" stroke="#111" stroke-width="1.2"/>
<line x1="338.70" y1="243.40" x2="347.30" y2="243.40" stroke="#111" stroke-width="1.2"/>
<line x1="338.70" y1="257.10" x2="347.30" y2="257.10" stroke="#111" stroke-width="1.2"/>
<path d="M360.75,324.40 V241.80 H376.25 V324.40" fill="none" stroke="#5cb8ee" stroke-width="1.6"/>
<line x1="368.50" y1="324.40" x2="368.50" y2="328.40" stroke="#6a6a6a" stroke-width="1.0"/>
<text x="371.70" y="334.00" font-size="10.3" text-anchor="end" fill="#222" transform="rotate(-45 371.70 334.00)" stroke="#222" stroke-width="0.12">PRPS1</text>
<rect x="360.60" y="235.00" width="3.0" height="3.0" fill="#3b79c6"/>
<rect x="364.60" y="237.00" width="3.0" height="3.0" fill="#3b79c6"/>
<rect x="369.00" y="237.00" width="3.0" height="3.0" fill="#3b79c6"/>
<rect x="366.80" y="232.00" width="3.0" height="3.0" fill="#3b79c6"/>
<rect x="373.60" y="238.60" width="3.0" height="3.0" fill="#3b79c6"/>
<rect x="367.00" y="258.00" width="3.0" height="3.0" fill="#3b79c6"/>
<line x1="368.50" y1="231.90" x2="368.50" y2="250.50" stroke="#111" stroke-width="1.2"/>
<line x1="364.20" y1="231.90" x2="372.80" y2="231.90" stroke="#111" stroke-width="1.2"/>
<line x1="364.20" y1="250.50" x2="372.80" y2="250.50" stroke="#111" stroke-width="1.2"/>
<path d="M386.55,324.40 V224.20 H402.05 V324.40" fill="none" stroke="#ec2227" stroke-width="1.6"/>
<line x1="394.30" y1="324.40" x2="394.30" y2="328.40" stroke="#6a6a6a" stroke-width="1.0"/>
<text x="398.80" y="334.20" font-size="10.3" text-anchor="end" fill="#222" transform="rotate(-45 398.80 334.20)" stroke="#222" stroke-width="0.12">PRPS2</text>
<polygon points="394.40,214.10 396.10,217.20 392.70,217.20" fill="#c81e28"/>
<polygon points="388.60,219.10 390.30,222.20 386.90,222.20" fill="#c81e28"/>
<polygon points="400.10,222.30 401.80,225.40 398.40,225.40" fill="#c81e28"/>
<polygon points="391.60,224.50 393.30,227.60 389.90,227.60" fill="#c81e28"/>
<polygon points="396.80,227.80 398.50,230.90 395.10,230.90" fill="#c81e28"/>
<polygon points="394.40,221.60 396.10,224.70 392.70,224.70" fill="#c81e28"/>
<line x1="394.30" y1="219.00" x2="394.30" y2="227.50" stroke="#111" stroke-width="1.2"/>
<line x1="390.00" y1="219.00" x2="398.60" y2="219.00" stroke="#111" stroke-width="1.2"/>
<line x1="390.00" y1="227.50" x2="398.60" y2="227.50" stroke="#111" stroke-width="1.2"/>
<path d="M342.60,199.80 V197.40 H394.50 V199.80" fill="none" stroke="#555" stroke-width="0.9"/>
<polygon points="361.65,192.75 362.23,194.30 363.88,194.37 362.59,195.40 363.03,197.00 361.65,196.09 360.27,197.00 360.71,195.40 359.42,194.37 361.07,194.30" fill="#1a1a1a"/>
<polygon points="366.65,192.75 367.23,194.30 368.88,194.37 367.59,195.40 368.03,197.00 366.65,196.09 365.27,197.00 365.71,195.40 364.42,194.37 366.07,194.30" fill="#1a1a1a"/>
<polygon points="371.65,192.75 372.23,194.30 373.88,194.37 372.59,195.40 373.03,197.00 371.65,196.09 370.27,197.00 370.71,195.40 369.42,194.37 371.07,194.30" fill="#1a1a1a"/>
<polygon points="376.65,192.75 377.23,194.30 378.88,194.37 377.59,195.40 378.03,197.00 376.65,196.09 375.27,197.00 375.71,195.40 374.42,194.37 376.07,194.30" fill="#1a1a1a"/>
<path d="M368.20,211.90 V209.50 H394.50 V211.90" fill="none" stroke="#555" stroke-width="0.9"/>
<polygon points="379.45,204.85 380.03,206.40 381.68,206.47 380.39,207.50 380.83,209.10 379.45,208.19 378.07,209.10 378.51,207.50 377.22,206.47 378.87,206.40" fill="#1a1a1a"/>
<polygon points="384.45,204.85 385.03,206.40 386.68,206.47 385.39,207.50 385.83,209.10 384.45,208.19 383.07,209.10 383.51,207.50 382.22,206.47 383.87,206.40" fill="#1a1a1a"/>
<text x="412.00" y="172.10" font-size="23" stroke="#141414" stroke-width="0.2">e</text>
<text x="491.30" y="174.10" font-size="9.9" font-weight="bold" text-anchor="middle" stroke="#141414" stroke-width="0.3">IMP (M+5)</text>
<line x1="460.40" y1="197.90" x2="460.40" y2="324.40" stroke="#6a6a6a" stroke-width="1.0"/>
<line x1="460.40" y1="324.40" x2="546.00" y2="324.40" stroke="#6a6a6a" stroke-width="1.0"/>
<line x1="456.20" y1="197.90" x2="460.40" y2="197.90" stroke="#6a6a6a" stroke-width="1.0"/>
<text x="455.10" y="201.65" font-size="10.5" text-anchor="end" fill="#1e1e1e" stroke="#1e1e1e" stroke-width="0.12">40</text>
<line x1="456.20" y1="229.60" x2="460.40" y2="229.60" stroke="#6a6a6a" stroke-width="1.0"/>
<text x="455.10" y="233.35" font-size="10.5" text-anchor="end" fill="#1e1e1e" stroke="#1e1e1e" stroke-width="0.12">30</text>
<line x1="456.20" y1="261.10" x2="460.40" y2="261.10" stroke="#6a6a6a" stroke-width="1.0"/>
<text x="455.10" y="264.85" font-size="10.5" text-anchor="end" fill="#1e1e1e" stroke="#1e1e1e" stroke-width="0.12">20</text>
<line x1="456.20" y1="292.80" x2="460.40" y2="292.80" stroke="#6a6a6a" stroke-width="1.0"/>
<text x="455.10" y="296.55" font-size="10.5" text-anchor="end" fill="#1e1e1e" stroke="#1e1e1e" stroke-width="0.12">10</text>
<line x1="456.20" y1="324.40" x2="460.40" y2="324.40" stroke="#6a6a6a" stroke-width="1.0"/>
<text x="455.10" y="328.15" font-size="10.5" text-anchor="end" fill="#1e1e1e" stroke="#1e1e1e" stroke-width="0.12">0</text>
<text x="440.30" y="260.80" font-size="13.1" text-anchor="middle" fill="#222" transform="rotate(-90 440.3 260.8)" stroke="#222" stroke-width="0.2">Peakarea (×10<tspan font-size="6.8" dy="-4.9">5</tspan><tspan dy="4.9">)</tspan></text>
<path d="M469.85,324.40 V263.00 H485.35 V324.40" fill="none" stroke="#7c7c80" stroke-width="1.6"/>
<line x1="477.60" y1="324.40" x2="477.60" y2="328.40" stroke="#6a6a6a" stroke-width="1.0"/>
<text x="480.10" y="334.70" font-size="10.3" text-anchor="end" fill="#222" transform="rotate(-45 480.10 334.70)" stroke="#222" stroke-width="0.12">Ctrl</text>
<circle cx="477.60" cy="252.00" r="1.6" fill="#5a5d62"/>
<circle cx="471.80" cy="258.10" r="1.6" fill="#5a5d62"/>
<circle cx="483.40" cy="261.10" r="1.6" fill="#5a5d62"/>
<circle cx="477.60" cy="260.00" r="1.6" fill="#5a5d62"/>
<circle cx="477.60" cy="268.20" r="1.6" fill="#5a5d62"/>
<circle cx="477.60" cy="273.40" r="1.6" fill="#5a5d62"/>
<line x1="477.60" y1="254.50" x2="477.60" y2="270.40" stroke="#111" stroke-width="1.2"/>
<line x1="473.30" y1="254.50" x2="481.90" y2="254.50" stroke="#111" stroke-width="1.2"/>
<line x1="473.30" y1="270.40" x2="481.90" y2="270.40" stroke="#111" stroke-width="1.2"/>
<path d="M495.15,324.40 V262.70 H510.65 V324.40" fill="none" stroke="#5cb8ee" stroke-width="1.6"/>
<line x1="502.90" y1="324.40" x2="502.90" y2="328.40" stroke="#6a6a6a" stroke-width="1.0"/>
<text x="506.10" y="334.00" font-size="10.3" text-anchor="end" fill="#222" transform="rotate(-45 506.10 334.00)" stroke="#222" stroke-width="0.12">PRPS1</text>
<rect x="495.00" y="259.20" width="3.0" height="3.0" fill="#3b79c6"/>
<rect x="499.10" y="258.10" width="3.0" height="3.0" fill="#3b79c6"/>
<rect x="504.00" y="257.90" width="3.0" height="3.0" fill="#3b79c6"/>
<rect x="499.60" y="261.20" width="3.0" height="3.0" fill="#3b79c6"/>
<rect x="504.00" y="261.70" width="3.0" height="3.0" fill="#3b79c6"/>
<rect x="507.80" y="263.40" width="3.0" height="3.0" fill="#3b79c6"/>
<line x1="502.90" y1="260.00" x2="502.90" y2="264.30" stroke="#111" stroke-width="1.2"/>
<line x1="498.60" y1="260.00" x2="507.20" y2="260.00" stroke="#111" stroke-width="1.2"/>
<line x1="498.60" y1="264.30" x2="507.20" y2="264.30" stroke="#111" stroke-width="1.2"/>
<path d="M520.55,324.40 V241.40 H536.05 V324.40" fill="none" stroke="#ec2227" stroke-width="1.6"/>
<line x1="528.30" y1="324.40" x2="528.30" y2="328.40" stroke="#6a6a6a" stroke-width="1.0"/>
<text x="532.80" y="334.20" font-size="10.3" text-anchor="end" fill="#222" transform="rotate(-45 532.80 334.20)" stroke="#222" stroke-width="0.12">PRPS2</text>
<polygon points="528.30,225.50 530.00,228.60 526.60,228.60" fill="#c81e28"/>
<polygon points="528.30,231.20 530.00,234.30 526.60,234.30" fill="#c81e28"/>
<polygon points="524.10,238.40 525.80,241.50 522.40,241.50" fill="#c81e28"/>
<polygon points="532.90,238.90 534.60,242.00 531.20,242.00" fill="#c81e28"/>
<polygon points="524.10,249.60 525.80,252.70 522.40,252.70" fill="#c81e28"/>
<polygon points="532.90,250.70 534.60,253.80 531.20,253.80" fill="#c81e28"/>
<line x1="528.30" y1="231.00" x2="528.30" y2="250.10" stroke="#111" stroke-width="1.2"/>
<line x1="524.00" y1="231.00" x2="532.60" y2="231.00" stroke="#111" stroke-width="1.2"/>
<line x1="524.00" y1="250.10" x2="532.60" y2="250.10" stroke="#111" stroke-width="1.2"/>
<path d="M477.50,208.80 V206.40 H528.30 V208.80" fill="none" stroke="#555" stroke-width="0.9"/>
<polygon points="498.50,201.75 499.08,203.30 500.73,203.37 499.44,204.40 499.88,206.00 498.50,205.09 497.12,206.00 497.56,204.40 496.27,203.37 497.92,203.30" fill="#1a1a1a"/>
<polygon points="503.50,201.75 504.08,203.30 505.73,203.37 504.44,204.40 504.88,206.00 503.50,205.09 502.12,206.00 502.56,204.40 501.27,203.37 502.92,203.30" fill="#1a1a1a"/>
<polygon points="508.50,201.75 509.08,203.30 510.73,203.37 509.44,204.40 509.88,206.00 508.50,205.09 507.12,206.00 507.56,204.40 506.27,203.37 507.92,203.30" fill="#1a1a1a"/>
<path d="M502.80,220.90 V218.50 H528.30 V220.90" fill="none" stroke="#555" stroke-width="0.9"/>
<polygon points="511.15,213.85 511.73,215.40 513.38,215.47 512.09,216.50 512.53,218.10 511.15,217.19 509.77,218.10 510.21,216.50 508.92,215.47 510.57,215.40" fill="#1a1a1a"/>
<polygon points="516.15,213.85 516.73,215.40 518.38,215.47 517.09,216.50 517.53,218.10 516.15,217.19 514.77,218.10 515.21,216.50 513.92,215.47 515.57,215.40" fill="#1a1a1a"/>
<polygon points="521.15,213.85 521.73,215.40 523.38,215.47 522.09,216.50 522.53,218.10 521.15,217.19 519.77,218.10 520.21,216.50 518.92,215.47 520.57,215.40" fill="#1a1a1a"/>
<text x="548.80" y="171.90" font-size="23" stroke="#141414" stroke-width="0.2">f</text>
<text x="635.80" y="174.10" font-size="9.9" font-weight="bold" text-anchor="middle" stroke="#141414" stroke-width="0.3">AMP (M+5)</text>
<line x1="598.30" y1="198.40" x2="598.30" y2="324.40" stroke="#6a6a6a" stroke-width="1.0"/>
<line x1="598.30" y1="324.40" x2="683.90" y2="324.40" stroke="#6a6a6a" stroke-width="1.0"/>
<line x1="594.10" y1="198.40" x2="598.30" y2="198.40" stroke="#6a6a6a" stroke-width="1.0"/>
<text x="593.00" y="202.15" font-size="10.5" text-anchor="end" fill="#1e1e1e" stroke="#1e1e1e" stroke-width="0.12">150</text>
<line x1="594.10" y1="230.00" x2="598.30" y2="230.00" stroke="#6a6a6a" stroke-width="1.0"/>
<text x="593.00" y="233.75" font-size="10.5" text-anchor="end" fill="#1e1e1e" stroke="#1e1e1e" stroke-width="0.12">120</text>
<line x1="594.10" y1="261.70" x2="598.30" y2="261.70" stroke="#6a6a6a" stroke-width="1.0"/>
<text x="593.00" y="265.45" font-size="10.5" text-anchor="end" fill="#1e1e1e" stroke="#1e1e1e" stroke-width="0.12">80</text>
<line x1="594.10" y1="293.00" x2="598.30" y2="293.00" stroke="#6a6a6a" stroke-width="1.0"/>
<text x="593.00" y="296.75" font-size="10.5" text-anchor="end" fill="#1e1e1e" stroke="#1e1e1e" stroke-width="0.12">40</text>
<line x1="594.10" y1="324.40" x2="598.30" y2="324.40" stroke="#6a6a6a" stroke-width="1.0"/>
<text x="593.00" y="328.15" font-size="10.5" text-anchor="end" fill="#1e1e1e" stroke="#1e1e1e" stroke-width="0.12">0</text>
<text x="573.30" y="260.80" font-size="13.1" text-anchor="middle" fill="#222" transform="rotate(-90 573.3 260.8)" stroke="#222" stroke-width="0.2">Peakarea (×10<tspan font-size="6.8" dy="-4.9">5</tspan><tspan dy="4.9">)</tspan></text>
<path d="M607.45,324.40 V275.80 H622.95 V324.40" fill="none" stroke="#7c7c80" stroke-width="1.6"/>
<line x1="615.20" y1="324.40" x2="615.20" y2="328.40" stroke="#6a6a6a" stroke-width="1.0"/>
<text x="617.70" y="334.70" font-size="10.3" text-anchor="end" fill="#222" transform="rotate(-45 617.70 334.70)" stroke="#222" stroke-width="0.12">Ctrl</text>
<circle cx="617.30" cy="270.60" r="1.6" fill="#5a5d62"/>
<circle cx="611.40" cy="273.00" r="1.6" fill="#5a5d62"/>
<circle cx="608.30" cy="275.80" r="1.6" fill="#5a5d62"/>
<circle cx="614.50" cy="276.00" r="1.6" fill="#5a5d62"/>
<circle cx="620.10" cy="276.70" r="1.6" fill="#5a5d62"/>
<circle cx="621.90" cy="278.20" r="1.6" fill="#5a5d62"/>
<line x1="615.20" y1="273.00" x2="615.20" y2="278.00" stroke="#111" stroke-width="1.2"/>
<line x1="610.90" y1="273.00" x2="619.50" y2="273.00" stroke="#111" stroke-width="1.2"/>
<line x1="610.90" y1="278.00" x2="619.50" y2="278.00" stroke="#111" stroke-width="1.2"/>
<path d="M632.65,324.40 V276.20 H648.15 V324.40" fill="none" stroke="#5cb8ee" stroke-width="1.6"/>
<line x1="640.40" y1="324.40" x2="640.40" y2="328.40" stroke="#6a6a6a" stroke-width="1.0"/>
<text x="643.60" y="334.00" font-size="10.3" text-anchor="end" fill="#222" transform="rotate(-45 643.60 334.00)" stroke="#222" stroke-width="0.12">PRPS1</text>
<rect x="638.40" y="270.10" width="3.0" height="3.0" fill="#3b79c6"/>
<rect x="631.80" y="272.30" width="3.0" height="3.0" fill="#3b79c6"/>
<rect x="633.00" y="273.70" width="3.0" height="3.0" fill="#3b79c6"/>
<rect x="644.00" y="275.80" width="3.0" height="3.0" fill="#3b79c6"/>
<rect x="645.40" y="278.00" width="3.0" height="3.0" fill="#3b79c6"/>
<rect x="640.50" y="277.10" width="3.0" height="3.0" fill="#3b79c6"/>
<line x1="640.40" y1="273.70" x2="640.40" y2="278.20" stroke="#111" stroke-width="1.2"/>
<line x1="636.10" y1="273.70" x2="644.70" y2="273.70" stroke="#111" stroke-width="1.2"/>
<line x1="636.10" y1="278.20" x2="644.70" y2="278.20" stroke="#111" stroke-width="1.2"/>
<path d="M657.85,324.40 V233.70 H673.35 V324.40" fill="none" stroke="#ec2227" stroke-width="1.6"/>
<line x1="665.60" y1="324.40" x2="665.60" y2="328.40" stroke="#6a6a6a" stroke-width="1.0"/>
<text x="670.10" y="334.20" font-size="10.3" text-anchor="end" fill="#222" transform="rotate(-45 670.10 334.20)" stroke="#222" stroke-width="0.12">PRPS2</text>
<polygon points="665.50,223.80 667.20,226.90 663.80,226.90" fill="#c81e28"/>
<polygon points="659.20,229.90 660.90,233.00 657.50,233.00" fill="#c81e28"/>
<polygon points="663.60,230.10 665.30,233.20 661.90,233.20" fill="#c81e28"/>
<polygon points="668.00,230.70 669.70,233.80 666.30,233.80" fill="#c81e28"/>
<polygon points="672.30,231.50 674.00,234.60 670.60,234.60" fill="#c81e28"/>
<polygon points="665.50,241.10 667.20,244.20 663.80,244.20" fill="#c81e28"/>
<line x1="665.60" y1="227.90" x2="665.60" y2="238.60" stroke="#111" stroke-width="1.2"/>
<line x1="661.30" y1="227.90" x2="669.90" y2="227.90" stroke="#111" stroke-width="1.2"/>
<line x1="661.30" y1="238.60" x2="669.90" y2="238.60" stroke="#111" stroke-width="1.2"/>
<path d="M615.40,209.00 V206.60 H665.40 V209.00" fill="none" stroke="#555" stroke-width="0.9"/>
<polygon points="633.50,201.95 634.08,203.50 635.73,203.57 634.44,204.60 634.88,206.20 633.50,205.29 632.12,206.20 632.56,204.60 631.27,203.57 632.92,203.50" fill="#1a1a1a"/>
<polygon points="638.50,201.95 639.08,203.50 640.73,203.57 639.44,204.60 639.88,206.20 638.50,205.29 637.12,206.20 637.56,204.60 636.27,203.57 637.92,203.50" fill="#1a1a1a"/>
<polygon points="643.50,201.95 644.08,203.50 645.73,203.57 644.44,204.60 644.88,206.20 643.50,205.29 642.12,206.20 642.56,204.60 641.27,203.57 642.92,203.50" fill="#1a1a1a"/>
<polygon points="648.50,201.95 649.08,203.50 650.73,203.57 649.44,204.60 649.88,206.20 648.50,205.29 647.12,206.20 647.56,204.60 646.27,203.57 647.92,203.50" fill="#1a1a1a"/>
<path d="M640.60,220.90 V218.50 H665.40 V220.90" fill="none" stroke="#555" stroke-width="0.9"/>
<polygon points="646.10,213.85 646.68,215.40 648.33,215.47 647.04,216.50 647.48,218.10 646.10,217.19 644.72,218.10 645.16,216.50 643.87,215.47 645.52,215.40" fill="#1a1a1a"/>
<polygon points="651.10,213.85 651.68,215.40 653.33,215.47 652.04,216.50 652.48,218.10 651.10,217.19 649.72,218.10 650.16,216.50 648.87,215.47 650.52,215.40" fill="#1a1a1a"/>
<polygon points="656.10,213.85 656.68,215.40 658.33,215.47 657.04,216.50 657.48,218.10 656.10,217.19 654.72,218.10 655.16,216.50 653.87,215.47 655.52,215.40" fill="#1a1a1a"/>
<polygon points="661.10,213.85 661.68,215.40 663.33,215.47 662.04,216.50 662.48,218.10 661.10,217.19 659.72,218.10 660.16,216.50 658.87,215.47 660.52,215.40" fill="#1a1a1a"/>
<text x="0.70" y="384.60" font-size="23" stroke="#141414" stroke-width="0.2">g</text>
<text x="86.60" y="400.00" font-size="9.9" font-weight="bold" text-anchor="middle" stroke="#141414" stroke-width="0.3">GMP (M+5)</text>
<line x1="50.60" y1="413.40" x2="50.60" y2="541.60" stroke="#6a6a6a" stroke-width="1.0"/>
<line x1="50.60" y1="541.60" x2="136.20" y2="541.60" stroke="#6a6a6a" stroke-width="1.0"/>
<line x1="46.40" y1="413.40" x2="50.60" y2="413.40" stroke="#6a6a6a" stroke-width="1.0"/>
<text x="45.30" y="417.15" font-size="10.5" text-anchor="end" fill="#1e1e1e" stroke="#1e1e1e" stroke-width="0.12">80</text>
<line x1="46.40" y1="445.30" x2="50.60" y2="445.30" stroke="#6a6a6a" stroke-width="1.0"/>
<text x="45.30" y="449.05" font-size="10.5" text-anchor="end" fill="#1e1e1e" stroke="#1e1e1e" stroke-width="0.12">60</text>
<line x1="46.40" y1="477.40" x2="50.60" y2="477.40" stroke="#6a6a6a" stroke-width="1.0"/>
<text x="45.30" y="481.15" font-size="10.5" text-anchor="end" fill="#1e1e1e" stroke="#1e1e1e" stroke-width="0.12">40</text>
<line x1="46.40" y1="509.40" x2="50.60" y2="509.40" stroke="#6a6a6a" stroke-width="1.0"/>
<text x="45.30" y="513.15" font-size="10.5" text-anchor="end" fill="#1e1e1e" stroke="#1e1e1e" stroke-width="0.12">20</text>
<line x1="46.40" y1="541.60" x2="50.60" y2="541.60" stroke="#6a6a6a" stroke-width="1.0"/>
<text x="45.30" y="545.35" font-size="10.5" text-anchor="end" fill="#1e1e1e" stroke="#1e1e1e" stroke-width="0.12">0</text>
<text x="28.30" y="479.00" font-size="13.1" text-anchor="middle" fill="#222" transform="rotate(-90 28.3 479.0)" stroke="#222" stroke-width="0.2">Peakarea (×10<tspan font-size="6.8" dy="-4.9">5</tspan><tspan dy="4.9">)</tspan></text>
<path d="M60.15,541.60 V485.20 H75.65 V541.60" fill="none" stroke="#7c7c80" stroke-width="1.6"/>
<line x1="67.90" y1="541.60" x2="67.90" y2="545.60" stroke="#6a6a6a" stroke-width="1.0"/>
<text x="70.40" y="551.90" font-size="10.3" text-anchor="end" fill="#222" transform="rotate(-45 70.40 551.90)" stroke="#222" stroke-width="0.12">Ctrl</text>
<circle cx="62.30" cy="481.20" r="1.6" fill="#5a5d62"/>
<circle cx="73.20" cy="480.70" r="1.6" fill="#5a5d62"/>
<circle cx="62.30" cy="485.20" r="1.6" fill="#5a5d62"/>
<circle cx="67.80" cy="484.50" r="1.6" fill="#5a5d62"/>
<circle cx="73.20" cy="490.00" r="1.6" fill="#5a5d62"/>
<circle cx="67.80" cy="489.40" r="1.6" fill="#5a5d62"/>
<line x1="67.90" y1="481.20" x2="67.90" y2="488.80" stroke="#111" stroke-width="1.2"/>
<line x1="63.60" y1="481.20" x2="72.20" y2="481.20" stroke="#111" stroke-width="1.2"/>
<line x1="63.60" y1="488.80" x2="72.20" y2="488.80" stroke="#111" stroke-width="1.2"/>
<path d="M85.75,541.60 V477.50 H101.25 V541.60" fill="none" stroke="#5cb8ee" stroke-width="1.6"/>
<line x1="93.50" y1="541.60" x2="93.50" y2="545.60" stroke="#6a6a6a" stroke-width="1.0"/>
<text x="96.70" y="551.20" font-size="10.3" text-anchor="end" fill="#222" transform="rotate(-45 96.70 551.20)" stroke="#222" stroke-width="0.12">PRPS1</text>
<rect x="86.10" y="470.90" width="3.0" height="3.0" fill="#3b79c6"/>
<rect x="97.90" y="469.70" width="3.0" height="3.0" fill="#3b79c6"/>
<rect x="85.70" y="476.00" width="3.0" height="3.0" fill="#3b79c6"/>
<rect x="92.10" y="474.00" width="3.0" height="3.0" fill="#3b79c6"/>
<rect x="97.90" y="480.60" width="3.0" height="3.0" fill="#3b79c6"/>
<rect x="92.10" y="478.50" width="3.0" height="3.0" fill="#3b79c6"/>
<line x1="93.50" y1="472.40" x2="93.50" y2="481.20" stroke="#111" stroke-width="1.2"/>
<line x1="89.20" y1="472.40" x2="97.80" y2="472.40" stroke="#111" stroke-width="1.2"/>
<line x1="89.20" y1="481.20" x2="97.80" y2="481.20" stroke="#111" stroke-width="1.2"/>
<path d="M111.45,541.60 V440.60 H126.95 V541.60" fill="none" stroke="#ec2227" stroke-width="1.6"/>
<line x1="119.20" y1="541.60" x2="119.20" y2="545.60" stroke="#6a6a6a" stroke-width="1.0"/>
<text x="123.70" y="551.40" font-size="10.3" text-anchor="end" fill="#222" transform="rotate(-45 123.70 551.40)" stroke="#222" stroke-width="0.12">PRPS2</text>
<polygon points="119.10,428.90 120.80,432.00 117.40,432.00" fill="#c81e28"/>
<polygon points="113.30,435.50 115.00,438.60 111.60,438.60" fill="#c81e28"/>
<polygon points="124.50,438.30 126.20,441.40 122.80,441.40" fill="#c81e28"/>
<polygon points="116.40,442.80 118.10,445.90 114.70,445.90" fill="#c81e28"/>
<polygon points="121.60,447.40 123.30,450.50 119.90,450.50" fill="#c81e28"/>
<polygon points="119.10,436.60 120.80,439.70 117.40,439.70" fill="#c81e28"/>
<line x1="119.20" y1="433.80" x2="119.20" y2="446.50" stroke="#111" stroke-width="1.2"/>
<line x1="114.90" y1="433.80" x2="123.50" y2="433.80" stroke="#111" stroke-width="1.2"/>
<line x1="114.90" y1="446.50" x2="123.50" y2="446.50" stroke="#111" stroke-width="1.2"/>
<path d="M67.30,414.20 V411.80 H119.50 V414.20" fill="none" stroke="#555" stroke-width="0.9"/>
<polygon points="86.50,407.15 87.08,408.70 88.73,408.77 87.44,409.80 87.88,411.40 86.50,410.49 85.12,411.40 85.56,409.80 84.27,408.77 85.92,408.70" fill="#1a1a1a"/>
<polygon points="91.50,407.15 92.08,408.70 93.73,408.77 92.44,409.80 92.88,411.40 91.50,410.49 90.12,411.40 90.56,409.80 89.27,408.77 90.92,408.70" fill="#1a1a1a"/>
<polygon points="96.50,407.15 97.08,408.70 98.73,408.77 97.44,409.80 97.88,411.40 96.50,410.49 95.12,411.40 95.56,409.80 94.27,408.77 95.92,408.70" fill="#1a1a1a"/>
<polygon points="101.50,407.15 102.08,408.70 103.73,408.77 102.44,409.80 102.88,411.40 101.50,410.49 100.12,411.40 100.56,409.80 99.27,408.77 100.92,408.70" fill="#1a1a1a"/>
<path d="M93.30,426.20 V423.80 H119.50 V426.20" fill="none" stroke="#555" stroke-width="0.9"/>
<polygon points="99.50,419.15 100.08,420.70 101.73,420.77 100.44,421.80 100.88,423.40 99.50,422.49 98.12,423.40 98.56,421.80 97.27,420.77 98.92,420.70" fill="#1a1a1a"/>
<polygon points="104.50,419.15 105.08,420.70 106.73,420.77 105.44,421.80 105.88,423.40 104.50,422.49 103.12,423.40 103.56,421.80 102.27,420.77 103.92,420.70" fill="#1a1a1a"/>
<polygon points="109.50,419.15 110.08,420.70 111.73,420.77 110.44,421.80 110.88,423.40 109.50,422.49 108.12,423.40 108.56,421.80 107.27,420.77 108.92,420.70" fill="#1a1a1a"/>
<polygon points="114.50,419.15 115.08,420.70 116.73,420.77 115.44,421.80 115.88,423.40 114.50,422.49 113.12,423.40 113.56,421.80 112.27,420.77 113.92,420.70" fill="#1a1a1a"/>
<path d="M66.30,466.90 V464.50 H91.80 V466.90" fill="none" stroke="#555" stroke-width="0.9"/>
<polygon points="79.65,459.85 80.23,461.40 81.88,461.47 80.59,462.50 81.03,464.10 79.65,463.19 78.27,464.10 78.71,462.50 77.42,461.47 79.07,461.40" fill="#1a1a1a"/>
<text x="137.60" y="385.00" font-size="23" stroke="#141414" stroke-width="0.2">h</text>
<text x="223.20" y="399.70" font-size="9.9" font-weight="bold" text-anchor="middle" stroke="#141414" stroke-width="0.3">ADP (M+5)</text>
<line x1="186.40" y1="413.40" x2="186.40" y2="541.60" stroke="#6a6a6a" stroke-width="1.0"/>
<line x1="186.40" y1="541.60" x2="272.00" y2="541.60" stroke="#6a6a6a" stroke-width="1.0"/>
<line x1="182.20" y1="413.40" x2="186.40" y2="413.40" stroke="#6a6a6a" stroke-width="1.0"/>
<text x="181.10" y="417.15" font-size="10.5" text-anchor="end" fill="#1e1e1e" stroke="#1e1e1e" stroke-width="0.12">90</text>
<line x1="182.20" y1="456.20" x2="186.40" y2="456.20" stroke="#6a6a6a" stroke-width="1.0"/>
<text x="181.10" y="459.95" font-size="10.5" text-anchor="end" fill="#1e1e1e" stroke="#1e1e1e" stroke-width="0.12">60</text>
<line x1="182.20" y1="499.10" x2="186.40" y2="499.10" stroke="#6a6a6a" stroke-width="1.0"/>
<text x="181.10" y="502.85" font-size="10.5" text-anchor="end" fill="#1e1e1e" stroke="#1e1e1e" stroke-width="0.12">30</text>
<line x1="182.20" y1="541.60" x2="186.40" y2="541.60" stroke="#6a6a6a" stroke-width="1.0"/>
<text x="181.10" y="545.35" font-size="10.5" text-anchor="end" fill="#1e1e1e" stroke="#1e1e1e" stroke-width="0.12">0</text>
<text x="166.60" y="479.60" font-size="13.1" text-anchor="middle" fill="#222" transform="rotate(-90 166.6 479.6)" stroke="#222" stroke-width="0.2">Peakarea (×10<tspan font-size="6.8" dy="-4.9">5</tspan><tspan dy="4.9">)</tspan></text>
<path d="M196.25,541.60 V458.40 H211.75 V541.60" fill="none" stroke="#7c7c80" stroke-width="1.6"/>
<line x1="204.00" y1="541.60" x2="204.00" y2="545.60" stroke="#6a6a6a" stroke-width="1.0"/>
<text x="206.50" y="551.90" font-size="10.3" text-anchor="end" fill="#222" transform="rotate(-45 206.50 551.90)" stroke="#222" stroke-width="0.12">Ctrl</text>
<circle cx="206.20" cy="451.80" r="1.6" fill="#5a5d62"/>
<circle cx="196.80" cy="458.40" r="1.6" fill="#5a5d62"/>
<circle cx="204.00" cy="457.00" r="1.6" fill="#5a5d62"/>
<circle cx="210.30" cy="462.80" r="1.6" fill="#5a5d62"/>
<circle cx="200.50" cy="461.50" r="1.6" fill="#5a5d62"/>
<circle cx="206.50" cy="460.00" r="1.6" fill="#5a5d62"/>
<line x1="204.00" y1="454.30" x2="204.00" y2="461.70" stroke="#111" stroke-width="1.2"/>
<line x1="199.70" y1="454.30" x2="208.30" y2="454.30" stroke="#111" stroke-width="1.2"/>
<line x1="199.70" y1="461.70" x2="208.30" y2="461.70" stroke="#111" stroke-width="1.2"/>
<path d="M221.95,541.60 V457.60 H237.45 V541.60" fill="none" stroke="#5cb8ee" stroke-width="1.6"/>
<line x1="229.70" y1="541.60" x2="229.70" y2="545.60" stroke="#6a6a6a" stroke-width="1.0"/>
<text x="232.90" y="551.20" font-size="10.3" text-anchor="end" fill="#222" transform="rotate(-45 232.90 551.20)" stroke="#222" stroke-width="0.12">PRPS1</text>
<rect x="229.90" y="450.90" width="3.0" height="3.0" fill="#3b79c6"/>
<rect x="221.10" y="455.80" width="3.0" height="3.0" fill="#3b79c6"/>
<rect x="226.00" y="454.00" width="3.0" height="3.0" fill="#3b79c6"/>
<rect x="230.00" y="458.00" width="3.0" height="3.0" fill="#3b79c6"/>
<rect x="234.50" y="458.50" width="3.0" height="3.0" fill="#3b79c6"/>
<rect x="227.50" y="456.50" width="3.0" height="3.0" fill="#3b79c6"/>
<line x1="229.70" y1="454.00" x2="229.70" y2="460.30" stroke="#111" stroke-width="1.2"/>
<line x1="225.40" y1="454.00" x2="234.00" y2="454.00" stroke="#111" stroke-width="1.2"/>
<line x1="225.40" y1="460.30" x2="234.00" y2="460.30" stroke="#111" stroke-width="1.2"/>
<path d="M247.45,541.60 V436.00 H262.95 V541.60" fill="none" stroke="#ec2227" stroke-width="1.6"/>
<line x1="255.20" y1="541.60" x2="255.20" y2="545.60" stroke="#6a6a6a" stroke-width="1.0"/>
<text x="259.70" y="551.40" font-size="10.3" text-anchor="end" fill="#222" transform="rotate(-45 259.70 551.40)" stroke="#222" stroke-width="0.12">PRPS2</text>
<polygon points="248.60,432.10 250.30,435.20 246.90,435.20" fill="#c81e28"/>
<polygon points="255.70,431.30 257.40,434.40 254.00,434.40" fill="#c81e28"/>
<polygon points="261.70,436.80 263.40,439.90 260.00,439.90" fill="#c81e28"/>
<polygon points="252.00,433.60 253.70,436.70 250.30,436.70" fill="#c81e28"/>
<polygon points="258.50,433.10 260.20,436.20 256.80,436.20" fill="#c81e28"/>
<polygon points="255.20,434.60 256.90,437.70 253.50,437.70" fill="#c81e28"/>
<line x1="255.20" y1="433.80" x2="255.20" y2="437.30" stroke="#111" stroke-width="1.2"/>
<line x1="250.90" y1="433.80" x2="259.50" y2="433.80" stroke="#111" stroke-width="1.2"/>
<line x1="250.90" y1="437.30" x2="259.50" y2="437.30" stroke="#111" stroke-width="1.2"/>
<path d="M203.90,418.00 V415.60 H255.40 V418.00" fill="none" stroke="#555" stroke-width="0.9"/>
<polygon points="222.75,410.95 223.33,412.50 224.98,412.57 223.69,413.60 224.13,415.20 222.75,414.29 221.37,415.20 221.81,413.60 220.52,412.57 222.17,412.50" fill="#1a1a1a"/>
<polygon points="227.75,410.95 228.33,412.50 229.98,412.57 228.69,413.60 229.13,415.20 227.75,414.29 226.37,415.20 226.81,413.60 225.52,412.57 227.17,412.50" fill="#1a1a1a"/>
<polygon points="232.75,410.95 233.33,412.50 234.98,412.57 233.69,413.60 234.13,415.20 232.75,414.29 231.37,415.20 231.81,413.60 230.52,412.57 232.17,412.50" fill="#1a1a1a"/>
<polygon points="237.75,410.95 238.33,412.50 239.98,412.57 238.69,413.60 239.13,415.20 237.75,414.29 236.37,415.20 236.81,413.60 235.52,412.57 237.17,412.50" fill="#1a1a1a"/>
<path d="M229.50,429.20 V426.80 H255.40 V429.20" fill="none" stroke="#555" stroke-width="0.9"/>
<polygon points="235.55,422.15 236.13,423.70 237.78,423.77 236.49,424.80 236.93,426.40 235.55,425.49 234.17,426.40 234.61,424.80 233.32,423.77 234.97,423.70" fill="#1a1a1a"/>
<polygon points="240.55,422.15 241.13,423.70 242.78,423.77 241.49,424.80 241.93,426.40 240.55,425.49 239.17,426.40 239.61,424.80 238.32,423.77 239.97,423.70" fill="#1a1a1a"/>
<polygon points="245.55,422.15 246.13,423.70 247.78,423.77 246.49,424.80 246.93,426.40 245.55,425.49 244.17,426.40 244.61,424.80 243.32,423.77 244.97,423.70" fill="#1a1a1a"/>
<polygon points="250.55,422.15 251.13,423.70 252.78,423.77 251.49,424.80 251.93,426.40 250.55,425.49 249.17,426.40 249.61,424.80 248.32,423.77 249.97,423.70" fill="#1a1a1a"/>
<text x="278.60" y="384.70" font-size="23" stroke="#141414" stroke-width="0.2">i</text>
<text x="362.10" y="399.70" font-size="9.9" font-weight="bold" text-anchor="middle" stroke="#141414" stroke-width="0.3">GDP (M+5)</text>
<line x1="327.20" y1="415.70" x2="327.20" y2="541.60" stroke="#6a6a6a" stroke-width="1.0"/>
<line x1="327.20" y1="541.60" x2="412.80" y2="541.60" stroke="#6a6a6a" stroke-width="1.0"/>
<line x1="323.00" y1="415.70" x2="327.20" y2="415.70" stroke="#6a6a6a" stroke-width="1.0"/>
<text x="321.90" y="419.45" font-size="10.5" text-anchor="end" fill="#1e1e1e" stroke="#1e1e1e" stroke-width="0.12">200</text>
<line x1="323.00" y1="447.20" x2="327.20" y2="447.20" stroke="#6a6a6a" stroke-width="1.0"/>
<text x="321.90" y="450.95" font-size="10.5" text-anchor="end" fill="#1e1e1e" stroke="#1e1e1e" stroke-width="0.12">150</text>
<line x1="323.00" y1="478.90" x2="327.20" y2="478.90" stroke="#6a6a6a" stroke-width="1.0"/>
<text x="321.90" y="482.65" font-size="10.5" text-anchor="end" fill="#1e1e1e" stroke="#1e1e1e" stroke-width="0.12">100</text>
<line x1="323.00" y1="510.20" x2="327.20" y2="510.20" stroke="#6a6a6a" stroke-width="1.0"/>
<text x="321.90" y="513.95" font-size="10.5" text-anchor="end" fill="#1e1e1e" stroke="#1e1e1e" stroke-width="0.12">50</text>
<line x1="323.00" y1="541.60" x2="327.20" y2="541.60" stroke="#6a6a6a" stroke-width="1.0"/>
<text x="321.90" y="545.35" font-size="10.5" text-anchor="end" fill="#1e1e1e" stroke="#1e1e1e" stroke-width="0.12">0</text>
<text x="300.00" y="479.70" font-size="13.1" text-anchor="middle" fill="#222" transform="rotate(-90 300.0 479.70000000000005)" stroke="#222" stroke-width="0.2">Peakarea (×10<tspan font-size="6.8" dy="-4.9">5</tspan><tspan dy="4.9">)</tspan></text>
<path d="M336.15,541.60 V470.60 H351.65 V541.60" fill="none" stroke="#7c7c80" stroke-width="1.6"/>
<line x1="343.90" y1="541.60" x2="343.90" y2="545.60" stroke="#6a6a6a" stroke-width="1.0"/>
<text x="346.40" y="551.90" font-size="10.3" text-anchor="end" fill="#222" transform="rotate(-45 346.40 551.90)" stroke="#222" stroke-width="0.12">Ctrl</text>
<circle cx="343.90" cy="457.70" r="1.6" fill="#5a5d62"/>
<circle cx="339.40" cy="465.80" r="1.6" fill="#5a5d62"/>
<circle cx="348.20" cy="467.70" r="1.6" fill="#5a5d62"/>
<circle cx="339.40" cy="473.00" r="1.6" fill="#5a5d62"/>
<circle cx="348.20" cy="474.20" r="1.6" fill="#5a5d62"/>
<circle cx="343.90" cy="480.10" r="1.6" fill="#5a5d62"/>
<line x1="343.90" y1="462.10" x2="343.90" y2="477.80" stroke="#111" stroke-width="1.2"/>
<line x1="339.60" y1="462.10" x2="348.20" y2="462.10" stroke="#111" stroke-width="1.2"/>
<line x1="339.60" y1="477.80" x2="348.20" y2="477.80" stroke="#111" stroke-width="1.2"/>
<path d="M361.45,541.60 V477.80 H376.95 V541.60" fill="none" stroke="#5cb8ee" stroke-width="1.6"/>
<line x1="369.20" y1="541.60" x2="369.20" y2="545.60" stroke="#6a6a6a" stroke-width="1.0"/>
<text x="372.40" y="551.20" font-size="10.3" text-anchor="end" fill="#222" transform="rotate(-45 372.40 551.20)" stroke="#222" stroke-width="0.12">PRPS1</text>
<rect x="363.00" y="469.20" width="3.0" height="3.0" fill="#3b79c6"/>
<rect x="372.10" y="468.20" width="3.0" height="3.0" fill="#3b79c6"/>
<rect x="363.40" y="474.40" width="3.0" height="3.0" fill="#3b79c6"/>
<rect x="372.10" y="476.70" width="3.0" height="3.0" fill="#3b79c6"/>
<rect x="363.00" y="480.60" width="3.0" height="3.0" fill="#3b79c6"/>
<rect x="372.10" y="481.90" width="3.0" height="3.0" fill="#3b79c6"/>
<line x1="369.20" y1="471.60" x2="369.20" y2="482.70" stroke="#111" stroke-width="1.2"/>
<line x1="364.90" y1="471.60" x2="373.50" y2="471.60" stroke="#111" stroke-width="1.2"/>
<line x1="364.90" y1="482.70" x2="373.50" y2="482.70" stroke="#111" stroke-width="1.2"/>
<path d="M386.75,541.60 V434.50 H402.25 V541.60" fill="none" stroke="#ec2227" stroke-width="1.6"/>
<line x1="394.50" y1="541.60" x2="394.50" y2="545.60" stroke="#6a6a6a" stroke-width="1.0"/>
<text x="399.00" y="551.40" font-size="10.3" text-anchor="end" fill="#222" transform="rotate(-45 399.00 551.40)" stroke="#222" stroke-width="0.12">PRPS2</text>
<polygon points="394.50,418.10 396.20,421.20 392.80,421.20" fill="#c81e28"/>
<polygon points="390.20,425.50 391.90,428.60 388.50,428.60" fill="#c81e28"/>
<polygon points="398.80,426.80 400.50,429.90 397.10,429.90" fill="#c81e28"/>
<polygon points="390.20,437.80 391.90,440.90 388.50,440.90" fill="#c81e28"/>
<polygon points="398.80,439.10 400.50,442.20 397.10,442.20" fill="#c81e28"/>
<polygon points="394.50,447.00 396.20,450.10 392.80,450.10" fill="#c81e28"/>
<line x1="394.50" y1="423.50" x2="394.50" y2="444.30" stroke="#111" stroke-width="1.2"/>
<line x1="390.20" y1="423.50" x2="398.80" y2="423.50" stroke="#111" stroke-width="1.2"/>
<line x1="390.20" y1="444.30" x2="398.80" y2="444.30" stroke="#111" stroke-width="1.2"/>
<path d="M343.50,411.00 V408.60 H394.50 V411.00" fill="none" stroke="#555" stroke-width="0.9"/>
<polygon points="362.10,403.95 362.68,405.50 364.33,405.57 363.04,406.60 363.48,408.20 362.10,407.29 360.72,408.20 361.16,406.60 359.87,405.57 361.52,405.50" fill="#1a1a1a"/>
<polygon points="367.10,403.95 367.68,405.50 369.33,405.57 368.04,406.60 368.48,408.20 367.10,407.29 365.72,408.20 366.16,406.60 364.87,405.57 366.52,405.50" fill="#1a1a1a"/>
<polygon points="372.10,403.95 372.68,405.50 374.33,405.57 373.04,406.60 373.48,408.20 372.10,407.29 370.72,408.20 371.16,406.60 369.87,405.57 371.52,405.50" fill="#1a1a1a"/>
<polygon points="377.10,403.95 377.68,405.50 379.33,405.57 378.04,406.60 378.48,408.20 377.10,407.29 375.72,408.20 376.16,406.60 374.87,405.57 376.52,405.50" fill="#1a1a1a"/>
<path d="M369.50,417.60 V415.20 H394.50 V417.60" fill="none" stroke="#555" stroke-width="0.9"/>
<polygon points="375.10,410.55 375.68,412.10 377.33,412.17 376.04,413.20 376.48,414.80 375.10,413.89 373.72,414.80 374.16,413.20 372.87,412.17 374.52,412.10" fill="#1a1a1a"/>
<polygon points="380.10,410.55 380.68,412.10 382.33,412.17 381.04,413.20 381.48,414.80 380.10,413.89 378.72,414.80 379.16,413.20 377.87,412.17 379.52,412.10" fill="#1a1a1a"/>
<polygon points="385.10,410.55 385.68,412.10 387.33,412.17 386.04,413.20 386.48,414.80 385.10,413.89 383.72,414.80 384.16,413.20 382.87,412.17 384.52,412.10" fill="#1a1a1a"/>
<polygon points="390.10,410.55 390.68,412.10 392.33,412.17 391.04,413.20 391.48,414.80 390.10,413.89 388.72,414.80 389.16,413.20 387.87,412.17 389.52,412.10" fill="#1a1a1a"/>
<text x="418.70" y="384.70" font-size="23" stroke="#141414" stroke-width="0.2">j</text>
<text x="491.20" y="399.70" font-size="9.9" font-weight="bold" text-anchor="middle" stroke="#141414" stroke-width="0.3">ATP (M+5)</text>
<line x1="461.50" y1="415.40" x2="461.50" y2="541.60" stroke="#6a6a6a" stroke-width="1.0"/>
<line x1="461.50" y1="541.60" x2="547.10" y2="541.60" stroke="#6a6a6a" stroke-width="1.0"/>
<line x1="457.30" y1="415.40" x2="461.50" y2="415.40" stroke="#6a6a6a" stroke-width="1.0"/>
<text x="456.20" y="419.15" font-size="10.5" text-anchor="end" fill="#1e1e1e" stroke="#1e1e1e" stroke-width="0.12">100</text>
<line x1="457.30" y1="447.10" x2="461.50" y2="447.10" stroke="#6a6a6a" stroke-width="1.0"/>
<text x="456.20" y="450.85" font-size="10.5" text-anchor="end" fill="#1e1e1e" stroke="#1e1e1e" stroke-width="0.12">75</text>
<line x1="457.30" y1="478.80" x2="461.50" y2="478.80" stroke="#6a6a6a" stroke-width="1.0"/>
<text x="456.20" y="482.55" font-size="10.5" text-anchor="end" fill="#1e1e1e" stroke="#1e1e1e" stroke-width="0.12">50</text>
<line x1="457.30" y1="510.20" x2="461.50" y2="510.20" stroke="#6a6a6a" stroke-width="1.0"/>
<text x="456.20" y="513.95" font-size="10.5" text-anchor="end" fill="#1e1e1e" stroke="#1e1e1e" stroke-width="0.12">25</text>
<line x1="457.30" y1="541.60" x2="461.50" y2="541.60" stroke="#6a6a6a" stroke-width="1.0"/>
<text x="456.20" y="545.35" font-size="10.5" text-anchor="end" fill="#1e1e1e" stroke="#1e1e1e" stroke-width="0.12">0</text>
<text x="441.30" y="479.60" font-size="13.1" text-anchor="middle" fill="#222" transform="rotate(-90 441.3 479.6)" stroke="#222" stroke-width="0.2">Peakarea (×10<tspan font-size="6.8" dy="-4.9">5</tspan><tspan dy="4.9">)</tspan></text>
<path d="M470.05,541.60 V468.10 H485.55 V541.60" fill="none" stroke="#7c7c80" stroke-width="1.6"/>
<line x1="477.80" y1="541.60" x2="477.80" y2="545.60" stroke="#6a6a6a" stroke-width="1.0"/>
<text x="480.30" y="551.90" font-size="10.3" text-anchor="end" fill="#222" transform="rotate(-45 480.30 551.90)" stroke="#222" stroke-width="0.12">Ctrl</text>
<circle cx="477.90" cy="460.40" r="1.6" fill="#5a5d62"/>
<circle cx="471.60" cy="466.80" r="1.6" fill="#5a5d62"/>
<circle cx="475.50" cy="467.00" r="1.6" fill="#5a5d62"/>
<circle cx="480.00" cy="467.50" r="1.6" fill="#5a5d62"/>
<circle cx="484.50" cy="469.50" r="1.6" fill="#5a5d62"/>
<circle cx="477.90" cy="474.40" r="1.6" fill="#5a5d62"/>
<line x1="477.80" y1="463.20" x2="477.80" y2="472.40" stroke="#111" stroke-width="1.2"/>
<line x1="473.50" y1="463.20" x2="482.10" y2="463.20" stroke="#111" stroke-width="1.2"/>
<line x1="473.50" y1="472.40" x2="482.10" y2="472.40" stroke="#111" stroke-width="1.2"/>
<path d="M495.55,541.60 V470.30 H511.05 V541.60" fill="none" stroke="#5cb8ee" stroke-width="1.6"/>
<line x1="503.30" y1="541.60" x2="503.30" y2="545.60" stroke="#6a6a6a" stroke-width="1.0"/>
<text x="506.50" y="551.20" font-size="10.3" text-anchor="end" fill="#222" transform="rotate(-45 506.50 551.20)" stroke="#222" stroke-width="0.12">PRPS1</text>
<rect x="495.30" y="465.80" width="3.0" height="3.0" fill="#3b79c6"/>
<rect x="507.80" y="465.00" width="3.0" height="3.0" fill="#3b79c6"/>
<rect x="499.50" y="468.50" width="3.0" height="3.0" fill="#3b79c6"/>
<rect x="504.00" y="468.00" width="3.0" height="3.0" fill="#3b79c6"/>
<rect x="499.50" y="471.50" width="3.0" height="3.0" fill="#3b79c6"/>
<rect x="504.00" y="474.60" width="3.0" height="3.0" fill="#3b79c6"/>
<line x1="503.30" y1="466.80" x2="503.30" y2="473.90" stroke="#111" stroke-width="1.2"/>
<line x1="499.00" y1="466.80" x2="507.60" y2="466.80" stroke="#111" stroke-width="1.2"/>
<line x1="499.00" y1="473.90" x2="507.60" y2="473.90" stroke="#111" stroke-width="1.2"/>
<path d="M520.75,541.60 V445.70 H536.25 V541.60" fill="none" stroke="#ec2227" stroke-width="1.6"/>
<line x1="528.50" y1="541.60" x2="528.50" y2="545.60" stroke="#6a6a6a" stroke-width="1.0"/>
<text x="533.00" y="551.40" font-size="10.3" text-anchor="end" fill="#222" transform="rotate(-45 533.00 551.40)" stroke="#222" stroke-width="0.12">PRPS2</text>
<polygon points="528.30,436.40 530.00,439.50 526.60,439.50" fill="#c81e28"/>
<polygon points="525.20,440.20 526.90,443.30 523.50,443.30" fill="#c81e28"/>
<polygon points="531.20,443.10 532.90,446.20 529.50,446.20" fill="#c81e28"/>
<polygon points="522.50,448.60 524.20,451.70 520.80,451.70" fill="#c81e28"/>
<polygon points="528.30,448.10 530.00,451.20 526.60,451.20" fill="#c81e28"/>
<polygon points="534.00,449.00 535.70,452.10 532.30,452.10" fill="#c81e28"/>
<line x1="528.50" y1="440.30" x2="528.50" y2="449.80" stroke="#111" stroke-width="1.2"/>
<line x1="524.20" y1="440.30" x2="532.80" y2="440.30" stroke="#111" stroke-width="1.2"/>
<line x1="524.20" y1="449.80" x2="532.80" y2="449.80" stroke="#111" stroke-width="1.2"/>
<path d="M477.50,422.30 V419.90 H528.70 V422.30" fill="none" stroke="#555" stroke-width="0.9"/>
<polygon points="496.20,415.25 496.78,416.80 498.43,416.87 497.14,417.90 497.58,419.50 496.20,418.59 494.82,419.50 495.26,417.90 493.97,416.87 495.62,416.80" fill="#1a1a1a"/>
<polygon points="501.20,415.25 501.78,416.80 503.43,416.87 502.14,417.90 502.58,419.50 501.20,418.59 499.82,419.50 500.26,417.90 498.97,416.87 500.62,416.80" fill="#1a1a1a"/>
<polygon points="506.20,415.25 506.78,416.80 508.43,416.87 507.14,417.90 507.58,419.50 506.20,418.59 504.82,419.50 505.26,417.90 503.97,416.87 505.62,416.80" fill="#1a1a1a"/>
<polygon points="511.20,415.25 511.78,416.80 513.43,416.87 512.14,417.90 512.58,419.50 511.20,418.59 509.82,419.50 510.26,417.90 508.97,416.87 510.62,416.80" fill="#1a1a1a"/>
<path d="M503.20,433.60 V431.20 H528.70 V433.60" fill="none" stroke="#555" stroke-width="0.9"/>
<polygon points="509.05,426.55 509.63,428.10 511.28,428.17 509.99,429.20 510.43,430.80 509.05,429.89 507.67,430.80 508.11,429.20 506.82,428.17 508.47,428.10" fill="#1a1a1a"/>
<polygon points="514.05,426.55 514.63,428.10 516.28,428.17 514.99,429.20 515.43,430.80 514.05,429.89 512.67,430.80 513.11,429.20 511.82,428.17 513.47,428.10" fill="#1a1a1a"/>
<polygon points="519.05,426.55 519.63,428.10 521.28,428.17 519.99,429.20 520.43,430.80 519.05,429.89 517.67,430.80 518.11,429.20 516.82,428.17 518.47,428.10" fill="#1a1a1a"/>
<polygon points="524.05,426.55 524.63,428.10 526.28,428.17 524.99,429.20 525.43,430.80 524.05,429.89 522.67,430.80 523.11,429.20 521.82,428.17 523.47,428.10" fill="#1a1a1a"/>
<text x="546.50" y="383.60" font-size="23" stroke="#141414" stroke-width="0.2">k</text>
<text x="635.30" y="399.70" font-size="9.9" font-weight="bold" text-anchor="middle" stroke="#141414" stroke-width="0.3">GTP (M+5)</text>
<line x1="598.00" y1="415.40" x2="598.00" y2="541.60" stroke="#6a6a6a" stroke-width="1.0"/>
<line x1="598.00" y1="541.60" x2="683.60" y2="541.60" stroke="#6a6a6a" stroke-width="1.0"/>
<line x1="593.80" y1="415.40" x2="598.00" y2="415.40" stroke="#6a6a6a" stroke-width="1.0"/>
<text x="592.70" y="419.15" font-size="10.5" text-anchor="end" fill="#1e1e1e" stroke="#1e1e1e" stroke-width="0.12">150</text>
<line x1="593.80" y1="457.30" x2="598.00" y2="457.30" stroke="#6a6a6a" stroke-width="1.0"/>
<text x="592.70" y="461.05" font-size="10.5" text-anchor="end" fill="#1e1e1e" stroke="#1e1e1e" stroke-width="0.12">100</text>
<line x1="593.80" y1="499.30" x2="598.00" y2="499.30" stroke="#6a6a6a" stroke-width="1.0"/>
<text x="592.70" y="503.05" font-size="10.5" text-anchor="end" fill="#1e1e1e" stroke="#1e1e1e" stroke-width="0.12">50</text>
<line x1="593.80" y1="541.60" x2="598.00" y2="541.60" stroke="#6a6a6a" stroke-width="1.0"/>
<text x="592.70" y="545.35" font-size="10.5" text-anchor="end" fill="#1e1e1e" stroke="#1e1e1e" stroke-width="0.12">0</text>
<text x="573.50" y="479.60" font-size="13.1" text-anchor="middle" fill="#222" transform="rotate(-90 573.5 479.6)" stroke="#222" stroke-width="0.2">Peakarea (×10<tspan font-size="6.8" dy="-4.9">5</tspan><tspan dy="4.9">)</tspan></text>
<path d="M607.55,541.60 V483.00 H623.05 V541.60" fill="none" stroke="#7c7c80" stroke-width="1.6"/>
<line x1="615.30" y1="541.60" x2="615.30" y2="545.60" stroke="#6a6a6a" stroke-width="1.0"/>
<text x="617.80" y="551.90" font-size="10.3" text-anchor="end" fill="#222" transform="rotate(-45 617.80 551.90)" stroke="#222" stroke-width="0.12">Ctrl</text>
<circle cx="608.80" cy="482.20" r="1.6" fill="#5a5d62"/>
<circle cx="613.00" cy="481.50" r="1.6" fill="#5a5d62"/>
<circle cx="616.60" cy="480.80" r="1.6" fill="#5a5d62"/>
<circle cx="620.60" cy="483.50" r="1.6" fill="#5a5d62"/>
<circle cx="622.30" cy="485.20" r="1.6" fill="#5a5d62"/>
<circle cx="615.30" cy="483.00" r="1.6" fill="#5a5d62"/>
<line x1="615.30" y1="481.70" x2="615.30" y2="483.90" stroke="#111" stroke-width="1.2"/>
<line x1="611.00" y1="481.70" x2="619.60" y2="481.70" stroke="#111" stroke-width="1.2"/>
<line x1="611.00" y1="483.90" x2="619.60" y2="483.90" stroke="#111" stroke-width="1.2"/>
<path d="M632.65,541.60 V483.90 H648.15 V541.60" fill="none" stroke="#5cb8ee" stroke-width="1.6"/>
<line x1="640.40" y1="541.60" x2="640.40" y2="545.60" stroke="#6a6a6a" stroke-width="1.0"/>
<text x="643.60" y="551.20" font-size="10.3" text-anchor="end" fill="#222" transform="rotate(-45 643.60 551.20)" stroke="#222" stroke-width="0.12">PRPS1</text>
<rect x="638.80" y="476.50" width="3.0" height="3.0" fill="#3b79c6"/>
<rect x="633.10" y="478.90" width="3.0" height="3.0" fill="#3b79c6"/>
<rect x="636.20" y="483.70" width="3.0" height="3.0" fill="#3b79c6"/>
<rect x="644.00" y="482.40" width="3.0" height="3.0" fill="#3b79c6"/>
<rect x="645.00" y="484.00" width="3.0" height="3.0" fill="#3b79c6"/>
<rect x="641.40" y="486.80" width="3.0" height="3.0" fill="#3b79c6"/>
<line x1="640.40" y1="479.50" x2="640.40" y2="487.60" stroke="#111" stroke-width="1.2"/>
<line x1="636.10" y1="479.50" x2="644.70" y2="479.50" stroke="#111" stroke-width="1.2"/>
<line x1="636.10" y1="487.60" x2="644.70" y2="487.60" stroke="#111" stroke-width="1.2"/>
<path d="M657.75,541.60 V456.50 H673.25 V541.60" fill="none" stroke="#ec2227" stroke-width="1.6"/>
<line x1="665.50" y1="541.60" x2="665.50" y2="545.60" stroke="#6a6a6a" stroke-width="1.0"/>
<text x="670.00" y="551.40" font-size="10.3" text-anchor="end" fill="#222" transform="rotate(-45 670.00 551.40)" stroke="#222" stroke-width="0.12">PRPS2</text>
<polygon points="665.50,439.60 667.20,442.70 663.80,442.70" fill="#c81e28"/>
<polygon points="661.40,446.20 663.10,449.30 659.70,449.30" fill="#c81e28"/>
<polygon points="669.80,448.40 671.50,451.50 668.10,451.50" fill="#c81e28"/>
<polygon points="661.40,466.60 663.10,469.70 659.70,469.70" fill="#c81e28"/>
<polygon points="669.80,470.30 671.50,473.40 668.10,473.40" fill="#c81e28"/>
<polygon points="665.50,454.10 667.20,457.20 663.80,457.20" fill="#c81e28"/>
<line x1="665.50" y1="444.20" x2="665.50" y2="467.80" stroke="#111" stroke-width="1.2"/>
<line x1="661.20" y1="444.20" x2="669.80" y2="444.20" stroke="#111" stroke-width="1.2"/>
<line x1="661.20" y1="467.80" x2="669.80" y2="467.80" stroke="#111" stroke-width="1.2"/>
<path d="M614.50,425.40 V423.00 H665.40 V425.40" fill="none" stroke="#555" stroke-width="0.9"/>
<polygon points="633.05,418.35 633.63,419.90 635.28,419.97 633.99,421.00 634.43,422.60 633.05,421.69 631.67,422.60 632.11,421.00 630.82,419.97 632.47,419.90" fill="#1a1a1a"/>
<polygon points="638.05,418.35 638.63,419.90 640.28,419.97 638.99,421.00 639.43,422.60 638.05,421.69 636.67,422.60 637.11,421.00 635.82,419.97 637.47,419.90" fill="#1a1a1a"/>
<polygon points="643.05,418.35 643.63,419.90 645.28,419.97 643.99,421.00 644.43,422.60 643.05,421.69 641.67,422.60 642.11,421.00 640.82,419.97 642.47,419.90" fill="#1a1a1a"/>
<polygon points="648.05,418.35 648.63,419.90 650.28,419.97 648.99,421.00 649.43,422.60 648.05,421.69 646.67,422.60 647.11,421.00 645.82,419.97 647.47,419.90" fill="#1a1a1a"/>
<path d="M640.30,437.70 V435.30 H665.80 V437.70" fill="none" stroke="#555" stroke-width="0.9"/>
<polygon points="648.65,430.65 649.23,432.20 650.88,432.27 649.59,433.30 650.03,434.90 648.65,433.99 647.27,434.90 647.71,433.30 646.42,432.27 648.07,432.20" fill="#1a1a1a"/>
<polygon points="653.65,430.65 654.23,432.20 655.88,432.27 654.59,433.30 655.03,434.90 653.65,433.99 652.27,434.90 652.71,433.30 651.42,432.27 653.07,432.20" fill="#1a1a1a"/>
<polygon points="658.65,430.65 659.23,432.20 660.88,432.27 659.59,433.30 660.03,434.90 658.65,433.99 657.27,434.90 657.71,433.30 656.42,432.27 658.07,432.20" fill="#1a1a1a"/>
</g></svg>
</body></html>
